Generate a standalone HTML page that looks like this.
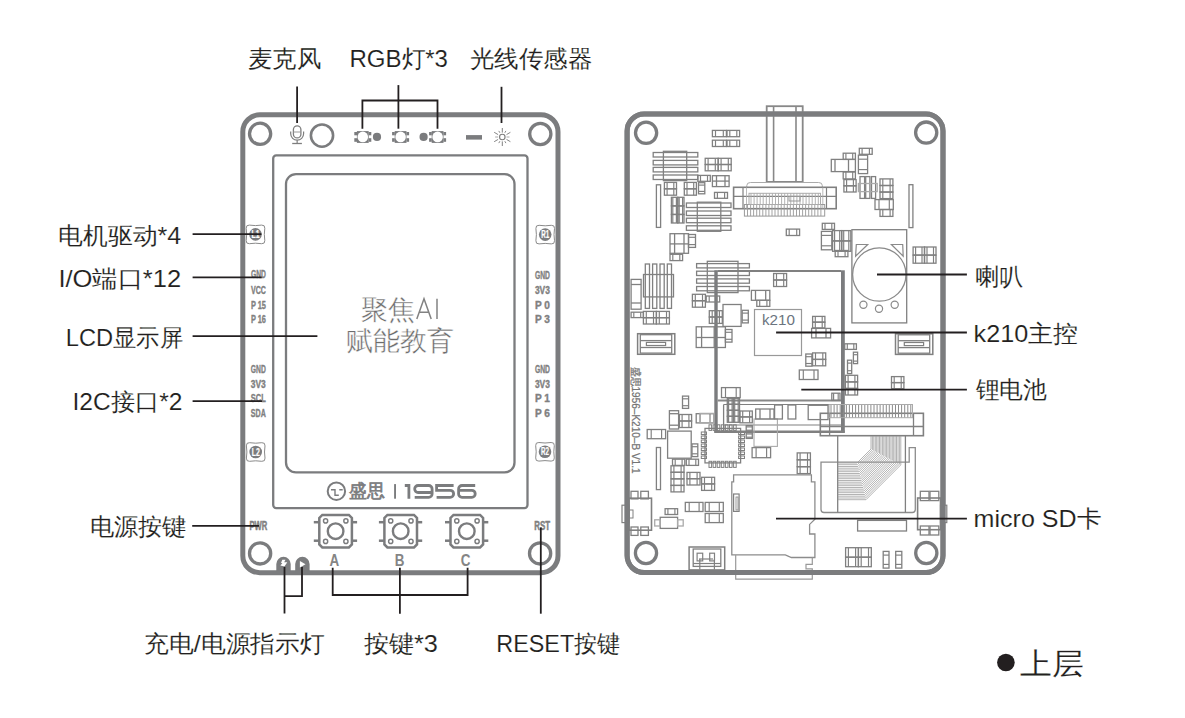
<!DOCTYPE html>
<html><head><meta charset="utf-8"><title>board</title>
<style>html,body{margin:0;padding:0;background:#fff;width:1185px;height:718px;overflow:hidden;position:relative}</style>
</head><body>
<svg width="1185" height="718" viewBox="0 0 1185 718" style="position:absolute;left:0;top:0;font-family:'Liberation Sans',sans-serif">
<rect x="242.8" y="114.8" width="315.2" height="457.9" rx="17" fill="none" stroke="#7b7c7e" stroke-width="5"/>
<circle cx="260.1" cy="133.8" r="10.6" fill="none" stroke="#7b7c7e" stroke-width="3.3"/>
<circle cx="540.3" cy="134" r="10.6" fill="none" stroke="#7b7c7e" stroke-width="3.3"/>
<circle cx="260.1" cy="553.4" r="10.6" fill="none" stroke="#7b7c7e" stroke-width="3.3"/>
<circle cx="540.1" cy="553.4" r="10.6" fill="none" stroke="#7b7c7e" stroke-width="3.3"/>
<rect x="273.2" y="155.4" width="254.3" height="352.7" rx="3" fill="none" stroke="#7b7c7e" stroke-width="2.3"/>
<rect x="286.0" y="174.1" width="228.5" height="298.3" rx="10" fill="none" stroke="#7b7c7e" stroke-width="2.3"/>
<rect x="293.4" y="125.8" width="7.5" height="12.1" rx="3.75" fill="none" stroke="#7e7e7e" stroke-width="1.3"/>
<line x1="293.4" y1="132" x2="300.9" y2="132" stroke="#999" stroke-width="1"/>
<path d="M290.7 131.4 V133.75 A6.45 6.45 0 0 0 303.6 133.75 V131.4" fill="none" stroke="#7e7e7e" stroke-width="1.2"/>
<line x1="297.15" y1="140.2" x2="297.15" y2="143" stroke="#7e7e7e" stroke-width="1.2"/>
<line x1="292.2" y1="143.5" x2="301.9" y2="143.5" stroke="#7e7e7e" stroke-width="1.3"/>
<circle cx="322" cy="135.6" r="11.1" fill="none" stroke="#7b7c7e" stroke-width="2.6"/>
<rect x="356.9" y="131.1" width="11.8" height="11.8" fill="#7b7c7e"/>
<rect x="354.3" y="132" width="2.7" height="3.3" fill="#7b7c7e"/>
<rect x="368.6" y="132" width="2.7" height="3.3" fill="#7b7c7e"/>
<rect x="354.3" y="138.2" width="2.7" height="3.6" fill="#7b7c7e"/>
<rect x="368.6" y="138.2" width="2.7" height="3.6" fill="#7b7c7e"/>
<circle cx="362.8" cy="136.9" r="5.3" fill="#fff"/>
<rect x="394.7" y="131.1" width="11.8" height="11.8" fill="#7b7c7e"/>
<rect x="392.1" y="132" width="2.7" height="3.3" fill="#7b7c7e"/>
<rect x="406.4" y="132" width="2.7" height="3.3" fill="#7b7c7e"/>
<rect x="392.1" y="138.2" width="2.7" height="3.6" fill="#7b7c7e"/>
<rect x="406.4" y="138.2" width="2.7" height="3.6" fill="#7b7c7e"/>
<circle cx="400.6" cy="136.9" r="5.3" fill="#fff"/>
<rect x="431.7" y="131.1" width="11.8" height="11.8" fill="#7b7c7e"/>
<rect x="429.1" y="132" width="2.7" height="3.3" fill="#7b7c7e"/>
<rect x="443.4" y="132" width="2.7" height="3.3" fill="#7b7c7e"/>
<rect x="429.1" y="138.2" width="2.7" height="3.6" fill="#7b7c7e"/>
<rect x="443.4" y="138.2" width="2.7" height="3.6" fill="#7b7c7e"/>
<circle cx="437.6" cy="136.9" r="5.3" fill="#fff"/>
<circle cx="377" cy="136.9" r="4.1" fill="#7b7c7e"/>
<circle cx="423.6" cy="136.9" r="4.1" fill="#7b7c7e"/>
<rect x="466" y="135.1" width="16" height="4.5" fill="#7b7c7e"/>
<circle cx="502.3" cy="137" r="2.75" fill="none" stroke="#7e7e7e" stroke-width="1.15"/>
<line x1="506.5" y1="137.0" x2="509.5" y2="137.0" stroke="#aaa" stroke-width="1.0"/>
<line x1="506.5" y1="139.4" x2="510.4" y2="141.7" stroke="#858585" stroke-width="1.0"/>
<line x1="504.8" y1="141.2" x2="505.9" y2="143.1" stroke="#8a8a8a" stroke-width="1.0"/>
<line x1="502.3" y1="141.4" x2="502.3" y2="146.0" stroke="#808080" stroke-width="1.0"/>
<line x1="499.9" y1="141.2" x2="498.8" y2="143.1" stroke="#8a8a8a" stroke-width="1.0"/>
<line x1="498.1" y1="139.4" x2="494.2" y2="141.7" stroke="#858585" stroke-width="1.0"/>
<line x1="498.1" y1="137.0" x2="495.1" y2="137.0" stroke="#aaa" stroke-width="1.0"/>
<line x1="498.1" y1="134.6" x2="494.2" y2="132.3" stroke="#858585" stroke-width="1.0"/>
<line x1="499.9" y1="132.8" x2="498.8" y2="130.9" stroke="#8a8a8a" stroke-width="1.0"/>
<line x1="502.3" y1="132.6" x2="502.3" y2="128.0" stroke="#808080" stroke-width="1.0"/>
<line x1="504.8" y1="132.8" x2="505.9" y2="130.9" stroke="#8a8a8a" stroke-width="1.0"/>
<line x1="506.5" y1="134.6" x2="510.4" y2="132.3" stroke="#858585" stroke-width="1.0"/>
<path d="M249.40 225.10 Q255.50 226.10 261.60 225.10 Q265.10 224.80 264.80 228.30 Q263.80 234.40 264.80 240.50 Q265.10 244.00 261.60 243.70 Q255.50 242.70 249.40 243.70 Q245.90 244.00 246.20 240.50 Q247.20 234.40 246.20 228.30 Q245.90 224.80 249.40 225.10 Z" fill="none" stroke="#8a8a8a" stroke-width="1"/>
<circle cx="255.5" cy="234.4" r="6.3" fill="#7b7c7e"/>
<text x="255.5" y="238.0" font-size="10" font-weight="bold" fill="#fff" stroke="#fff" stroke-width="0.2" text-anchor="middle" textLength="8" lengthAdjust="spacingAndGlyphs">L1</text>
<path d="M539.10 225.30 Q545.20 226.30 551.30 225.30 Q554.80 225.00 554.50 228.50 Q553.50 234.60 554.50 240.70 Q554.80 244.20 551.30 243.90 Q545.20 242.90 539.10 243.90 Q535.60 244.20 535.90 240.70 Q536.90 234.60 535.90 228.50 Q535.60 225.00 539.10 225.30 Z" fill="none" stroke="#8a8a8a" stroke-width="1"/>
<circle cx="545.2" cy="234.6" r="6.3" fill="#7b7c7e"/>
<text x="545.2" y="238.2" font-size="10" font-weight="bold" fill="#fff" stroke="#fff" stroke-width="0.2" text-anchor="middle" textLength="8" lengthAdjust="spacingAndGlyphs">R1</text>
<path d="M249.60 442.70 Q255.70 443.70 261.80 442.70 Q265.30 442.40 265.00 445.90 Q264.00 452.00 265.00 458.10 Q265.30 461.60 261.80 461.30 Q255.70 460.30 249.60 461.30 Q246.10 461.60 246.40 458.10 Q247.40 452.00 246.40 445.90 Q246.10 442.40 249.60 442.70 Z" fill="none" stroke="#8a8a8a" stroke-width="1"/>
<circle cx="255.7" cy="452" r="6.3" fill="#7b7c7e"/>
<text x="255.7" y="455.6" font-size="10" font-weight="bold" fill="#fff" stroke="#fff" stroke-width="0.2" text-anchor="middle" textLength="8" lengthAdjust="spacingAndGlyphs">L2</text>
<path d="M538.90 442.50 Q545.00 443.50 551.10 442.50 Q554.60 442.20 554.30 445.70 Q553.30 451.80 554.30 457.90 Q554.60 461.40 551.10 461.10 Q545.00 460.10 538.90 461.10 Q535.40 461.40 535.70 457.90 Q536.70 451.80 535.70 445.70 Q535.40 442.20 538.90 442.50 Z" fill="none" stroke="#8a8a8a" stroke-width="1"/>
<circle cx="545" cy="451.8" r="6.3" fill="#7b7c7e"/>
<text x="545.0" y="455.4" font-size="10" font-weight="bold" fill="#fff" stroke="#fff" stroke-width="0.2" text-anchor="middle" textLength="8" lengthAdjust="spacingAndGlyphs">R2</text>
<text x="250.9" y="278.4" font-size="10" font-weight="bold" fill="#808080" stroke="#808080" stroke-width="0.35" textLength="15" lengthAdjust="spacingAndGlyphs">GND</text>
<text x="250.9" y="293.5" font-size="10" font-weight="bold" fill="#808080" stroke="#808080" stroke-width="0.35" textLength="15" lengthAdjust="spacingAndGlyphs">VCC</text>
<text x="250.9" y="308.5" font-size="10" font-weight="bold" fill="#808080" stroke="#808080" stroke-width="0.35" textLength="15" lengthAdjust="spacingAndGlyphs">P 15</text>
<text x="250.9" y="323.0" font-size="10" font-weight="bold" fill="#808080" stroke="#808080" stroke-width="0.35" textLength="15" lengthAdjust="spacingAndGlyphs">P 16</text>
<text x="250.8" y="372.7" font-size="10" font-weight="bold" fill="#808080" stroke="#808080" stroke-width="0.35" textLength="15" lengthAdjust="spacingAndGlyphs">GND</text>
<text x="250.8" y="387.6" font-size="10" font-weight="bold" fill="#808080" stroke="#808080" stroke-width="0.35" textLength="15" lengthAdjust="spacingAndGlyphs">3V3</text>
<text x="250.8" y="402.3" font-size="10" font-weight="bold" fill="#808080" stroke="#808080" stroke-width="0.35" textLength="15" lengthAdjust="spacingAndGlyphs">SCL</text>
<text x="250.8" y="417.3" font-size="10" font-weight="bold" fill="#808080" stroke="#808080" stroke-width="0.35" textLength="15" lengthAdjust="spacingAndGlyphs">SDA</text>
<text x="534.9" y="278.7" font-size="10" font-weight="bold" fill="#808080" stroke="#808080" stroke-width="0.35" textLength="15" lengthAdjust="spacingAndGlyphs">GND</text>
<text x="534.9" y="293.6" font-size="10" font-weight="bold" fill="#808080" stroke="#808080" stroke-width="0.35" textLength="15" lengthAdjust="spacingAndGlyphs">3V3</text>
<text x="534.9" y="308.8" font-size="10" font-weight="bold" fill="#808080" stroke="#808080" stroke-width="0.35" textLength="15" lengthAdjust="spacingAndGlyphs">P 0</text>
<text x="534.9" y="322.9" font-size="10" font-weight="bold" fill="#808080" stroke="#808080" stroke-width="0.35" textLength="15" lengthAdjust="spacingAndGlyphs">P 3</text>
<text x="534.9" y="372.7" font-size="10" font-weight="bold" fill="#808080" stroke="#808080" stroke-width="0.35" textLength="15" lengthAdjust="spacingAndGlyphs">GND</text>
<text x="534.9" y="387.6" font-size="10" font-weight="bold" fill="#808080" stroke="#808080" stroke-width="0.35" textLength="15" lengthAdjust="spacingAndGlyphs">3V3</text>
<text x="534.9" y="402.3" font-size="10" font-weight="bold" fill="#808080" stroke="#808080" stroke-width="0.35" textLength="15" lengthAdjust="spacingAndGlyphs">P 1</text>
<text x="534.9" y="417.3" font-size="10" font-weight="bold" fill="#808080" stroke="#808080" stroke-width="0.35" textLength="15" lengthAdjust="spacingAndGlyphs">P 6</text>
<text x="249.5" y="530.4" font-size="12" font-weight="bold" fill="#808080" stroke="#808080" stroke-width="0.5" textLength="17.8" lengthAdjust="spacingAndGlyphs">PWR</text>
<text x="534.2" y="530.4" font-size="12" font-weight="bold" fill="#808080" stroke="#808080" stroke-width="0.5" textLength="15.8" lengthAdjust="spacingAndGlyphs">RST</text>
<text x="361" y="318.6" font-size="27" fill="#6c6c6c" stroke="#fff" stroke-width="0.42">聚焦</text>
<path d="M416.8 319 L424 298.8 L431.2 319 M419.2 312.2 H428.8 M437 298.8 V319" fill="none" stroke="#828282" stroke-width="1.5"/>
<text x="400.3" y="350.2" font-size="27" fill="#6c6c6c" stroke="#fff" stroke-width="0.42" text-anchor="middle">赋能教育</text>
<circle cx="336.4" cy="491.2" r="8.7" fill="none" stroke="#7b7c7e" stroke-width="2"/>
<path d="M331 489.8 H335 V495.2 H338.8 M339.3 489.8 H342.7" fill="none" stroke="#7b7c7e" stroke-width="1.4"/>
<text x="349" y="497.2" font-size="18" fill="#7b7c7e" stroke="#7b7c7e" stroke-width="0.7" textLength="35.6" lengthAdjust="spacingAndGlyphs">盛思</text>
<rect x="394.1" y="484.1" width="1.9" height="14.6" fill="#7b7c7e"/>
<g fill="none" stroke="#7b7c7e" stroke-width="2.8"><path d="M404.8 485.5 H408.9 V498.7"/><path d="M414.7 497.3 H428.7 A3.4 3.4 0 0 0 432.1 493.9 V488.9 A3.4 3.4 0 0 0 428.7 485.5 H418.1 A3.4 3.4 0 0 0 414.7 488.9 V489.1 A3.4 3.4 0 0 0 418.1 492.5 H432.1"/><path d="M453.6 485.5 H436.6 V490.3 H450.2 A3.4 3.4 0 0 1 453.6 493.7 V493.9 A3.4 3.4 0 0 1 450.2 497.3 H436.6"/><path d="M475.2 485.5 H462 A3.4 3.4 0 0 0 458.6 488.9 V493.9 A3.4 3.4 0 0 0 462 497.3 H471.8 A3.4 3.4 0 0 0 475.2 493.9 V493.7 A3.4 3.4 0 0 0 471.8 490.3 H458.6"/></g>
<path d="M322.3 514.9 H348.9 L351.9 517.9 V544.5 L348.9 547.5 H322.3 L319.3 544.5 V517.9 Z" fill="none" stroke="#7b7c7e" stroke-width="2.5"/>
<line x1="313.8" y1="522.2" x2="319.3" y2="522.2" stroke="#7b7c7e" stroke-width="2.5"/>
<line x1="351.9" y1="522.2" x2="357.1" y2="522.2" stroke="#7b7c7e" stroke-width="2.5"/>
<line x1="313.8" y1="540.7" x2="319.3" y2="540.7" stroke="#7b7c7e" stroke-width="2.5"/>
<line x1="351.9" y1="540.7" x2="357.1" y2="540.7" stroke="#7b7c7e" stroke-width="2.5"/>
<circle cx="335.6" cy="531.2" r="7.8" fill="none" stroke="#7b7c7e" stroke-width="2.4"/>
<circle cx="325.6" cy="520.9" r="2.1" fill="none" stroke="#7b7c7e" stroke-width="1.45"/>
<circle cx="325.6" cy="541.4" r="2.1" fill="none" stroke="#7b7c7e" stroke-width="1.45"/>
<circle cx="345.9" cy="520.9" r="2.1" fill="none" stroke="#7b7c7e" stroke-width="1.45"/>
<circle cx="345.9" cy="541.4" r="2.1" fill="none" stroke="#7b7c7e" stroke-width="1.45"/>
<text x="334.4" y="565.7" font-size="16.5" font-weight="bold" fill="#858585" text-anchor="middle" textLength="9.7" lengthAdjust="spacingAndGlyphs">A</text>
<path d="M387.4 514.9 H414.0 L417.0 517.9 V544.5 L414.0 547.5 H387.4 L384.4 544.5 V517.9 Z" fill="none" stroke="#7b7c7e" stroke-width="2.5"/>
<line x1="378.9" y1="522.2" x2="384.4" y2="522.2" stroke="#7b7c7e" stroke-width="2.5"/>
<line x1="417.0" y1="522.2" x2="422.2" y2="522.2" stroke="#7b7c7e" stroke-width="2.5"/>
<line x1="378.9" y1="540.7" x2="384.4" y2="540.7" stroke="#7b7c7e" stroke-width="2.5"/>
<line x1="417.0" y1="540.7" x2="422.2" y2="540.7" stroke="#7b7c7e" stroke-width="2.5"/>
<circle cx="400.7" cy="531.2" r="7.8" fill="none" stroke="#7b7c7e" stroke-width="2.4"/>
<circle cx="390.7" cy="520.9" r="2.1" fill="none" stroke="#7b7c7e" stroke-width="1.45"/>
<circle cx="390.7" cy="541.4" r="2.1" fill="none" stroke="#7b7c7e" stroke-width="1.45"/>
<circle cx="411.0" cy="520.9" r="2.1" fill="none" stroke="#7b7c7e" stroke-width="1.45"/>
<circle cx="411.0" cy="541.4" r="2.1" fill="none" stroke="#7b7c7e" stroke-width="1.45"/>
<text x="399.5" y="565.7" font-size="16.5" font-weight="bold" fill="#858585" text-anchor="middle" textLength="9.7" lengthAdjust="spacingAndGlyphs">B</text>
<path d="M453.5 514.9 H480.1 L483.1 517.9 V544.5 L480.1 547.5 H453.5 L450.5 544.5 V517.9 Z" fill="none" stroke="#7b7c7e" stroke-width="2.5"/>
<line x1="445.0" y1="522.2" x2="450.5" y2="522.2" stroke="#7b7c7e" stroke-width="2.5"/>
<line x1="483.1" y1="522.2" x2="488.3" y2="522.2" stroke="#7b7c7e" stroke-width="2.5"/>
<line x1="445.0" y1="540.7" x2="450.5" y2="540.7" stroke="#7b7c7e" stroke-width="2.5"/>
<line x1="483.1" y1="540.7" x2="488.3" y2="540.7" stroke="#7b7c7e" stroke-width="2.5"/>
<circle cx="466.8" cy="531.2" r="7.8" fill="none" stroke="#7b7c7e" stroke-width="2.4"/>
<circle cx="456.8" cy="520.9" r="2.1" fill="none" stroke="#7b7c7e" stroke-width="1.45"/>
<circle cx="456.8" cy="541.4" r="2.1" fill="none" stroke="#7b7c7e" stroke-width="1.45"/>
<circle cx="477.1" cy="520.9" r="2.1" fill="none" stroke="#7b7c7e" stroke-width="1.45"/>
<circle cx="477.1" cy="541.4" r="2.1" fill="none" stroke="#7b7c7e" stroke-width="1.45"/>
<text x="465.6" y="565.7" font-size="16.5" font-weight="bold" fill="#858585" text-anchor="middle" textLength="9.7" lengthAdjust="spacingAndGlyphs">C</text>
<path d="M276.3 572 V564 A7.2 7.2 0 0 1 290.7 564 V572 Z" fill="#7b7c7e"/>
<path d="M295.2 572 V564 A7.2 7.2 0 0 1 309.6 564 V572 Z" fill="#7b7c7e"/>
<path d="M282.3 559.8 H285.5 L284.2 562.2 H287.3 L284.4 566.4 L280.4 565.6 L282.4 562.9 H281 Z" fill="#fff"/>
<path d="M299.9 561 L305.5 564.3 L299.9 567.5 Z" fill="#fff"/>
<rect x="627.1" y="114.0" width="315.9" height="458.6" rx="17" fill="none" stroke="#7b7c7e" stroke-width="5"/>
<circle cx="646.1" cy="132.8" r="10.6" fill="none" stroke="#7b7c7e" stroke-width="3.3"/>
<circle cx="926.2" cy="132.6" r="10.6" fill="none" stroke="#7b7c7e" stroke-width="3.3"/>
<circle cx="646" cy="553" r="10.6" fill="none" stroke="#7b7c7e" stroke-width="3.3"/>
<circle cx="926.3" cy="553" r="10.6" fill="none" stroke="#7b7c7e" stroke-width="3.3"/>
<rect x="766.7" y="106.2" width="36.0" height="75.7" rx="0" fill="none" stroke="#888" stroke-width="1.8"/>
<line x1="773.6" y1="106.2" x2="773.6" y2="181.9" stroke="#888" stroke-width="1.6"/>
<line x1="796.0" y1="106.2" x2="796.0" y2="181.9" stroke="#888" stroke-width="1.6"/>
<path d="M746.8 187.3 V185.5 Q746.8 182.5 750.5 182.5 H818.6 Q822.3 182.5 822.3 185.5 V187.3" fill="none" stroke="#aaa" stroke-width="1"/>
<rect x="733.6" y="187.3" width="102.6" height="21.4" rx="0" fill="none" stroke="#808080" stroke-width="1.6"/>
<line x1="733.6" y1="196.4" x2="836.2" y2="196.4" stroke="#808080" stroke-width="1.3"/>
<line x1="743.0" y1="187.3" x2="743.0" y2="208.7" stroke="#808080" stroke-width="1.2"/>
<line x1="826.5" y1="187.3" x2="826.5" y2="208.7" stroke="#808080" stroke-width="1.2"/>
<line x1="746.5" y1="187.3" x2="746.5" y2="208.7" stroke="#aaa" stroke-width="0.8"/>
<line x1="822.8" y1="187.3" x2="822.8" y2="208.7" stroke="#aaa" stroke-width="0.8"/>
<line x1="747.5" y1="204.5" x2="747.5" y2="216.1" stroke="#999" stroke-width="0.9"/>
<line x1="750.6" y1="204.5" x2="750.6" y2="216.1" stroke="#999" stroke-width="0.9"/>
<line x1="753.6" y1="204.5" x2="753.6" y2="216.1" stroke="#999" stroke-width="0.9"/>
<line x1="756.7" y1="204.5" x2="756.7" y2="216.1" stroke="#999" stroke-width="0.9"/>
<line x1="759.7" y1="204.5" x2="759.7" y2="216.1" stroke="#999" stroke-width="0.9"/>
<line x1="762.8" y1="204.5" x2="762.8" y2="216.1" stroke="#999" stroke-width="0.9"/>
<line x1="765.9" y1="204.5" x2="765.9" y2="216.1" stroke="#999" stroke-width="0.9"/>
<line x1="768.9" y1="204.5" x2="768.9" y2="216.1" stroke="#999" stroke-width="0.9"/>
<line x1="772.0" y1="204.5" x2="772.0" y2="216.1" stroke="#999" stroke-width="0.9"/>
<line x1="775.0" y1="204.5" x2="775.0" y2="216.1" stroke="#999" stroke-width="0.9"/>
<line x1="778.1" y1="204.5" x2="778.1" y2="216.1" stroke="#999" stroke-width="0.9"/>
<line x1="781.2" y1="204.5" x2="781.2" y2="216.1" stroke="#999" stroke-width="0.9"/>
<line x1="784.2" y1="204.5" x2="784.2" y2="216.1" stroke="#999" stroke-width="0.9"/>
<line x1="787.3" y1="204.5" x2="787.3" y2="216.1" stroke="#999" stroke-width="0.9"/>
<line x1="790.3" y1="204.5" x2="790.3" y2="216.1" stroke="#999" stroke-width="0.9"/>
<line x1="793.4" y1="204.5" x2="793.4" y2="216.1" stroke="#999" stroke-width="0.9"/>
<line x1="796.5" y1="204.5" x2="796.5" y2="216.1" stroke="#999" stroke-width="0.9"/>
<line x1="799.5" y1="204.5" x2="799.5" y2="216.1" stroke="#999" stroke-width="0.9"/>
<line x1="802.6" y1="204.5" x2="802.6" y2="216.1" stroke="#999" stroke-width="0.9"/>
<line x1="805.6" y1="204.5" x2="805.6" y2="216.1" stroke="#999" stroke-width="0.9"/>
<line x1="808.7" y1="204.5" x2="808.7" y2="216.1" stroke="#999" stroke-width="0.9"/>
<line x1="811.8" y1="204.5" x2="811.8" y2="216.1" stroke="#999" stroke-width="0.9"/>
<line x1="814.8" y1="204.5" x2="814.8" y2="216.1" stroke="#999" stroke-width="0.9"/>
<line x1="817.9" y1="204.5" x2="817.9" y2="216.1" stroke="#999" stroke-width="0.9"/>
<line x1="820.9" y1="204.5" x2="820.9" y2="216.1" stroke="#999" stroke-width="0.9"/>
<line x1="751.0" y1="193.3" x2="751.0" y2="204.5" stroke="#aaa" stroke-width="0.9"/>
<line x1="754.1" y1="193.3" x2="754.1" y2="204.5" stroke="#aaa" stroke-width="0.9"/>
<line x1="757.1" y1="193.3" x2="757.1" y2="204.5" stroke="#aaa" stroke-width="0.9"/>
<line x1="760.2" y1="193.3" x2="760.2" y2="204.5" stroke="#aaa" stroke-width="0.9"/>
<line x1="763.2" y1="193.3" x2="763.2" y2="204.5" stroke="#aaa" stroke-width="0.9"/>
<line x1="766.3" y1="193.3" x2="766.3" y2="204.5" stroke="#aaa" stroke-width="0.9"/>
<line x1="769.4" y1="193.3" x2="769.4" y2="204.5" stroke="#aaa" stroke-width="0.9"/>
<line x1="772.4" y1="193.3" x2="772.4" y2="204.5" stroke="#aaa" stroke-width="0.9"/>
<line x1="775.5" y1="193.3" x2="775.5" y2="204.5" stroke="#aaa" stroke-width="0.9"/>
<line x1="778.5" y1="193.3" x2="778.5" y2="204.5" stroke="#aaa" stroke-width="0.9"/>
<line x1="781.6" y1="193.3" x2="781.6" y2="204.5" stroke="#aaa" stroke-width="0.9"/>
<line x1="784.7" y1="193.3" x2="784.7" y2="204.5" stroke="#aaa" stroke-width="0.9"/>
<line x1="787.7" y1="193.3" x2="787.7" y2="204.5" stroke="#aaa" stroke-width="0.9"/>
<line x1="790.8" y1="193.3" x2="790.8" y2="204.5" stroke="#aaa" stroke-width="0.9"/>
<line x1="793.8" y1="193.3" x2="793.8" y2="204.5" stroke="#aaa" stroke-width="0.9"/>
<line x1="796.9" y1="193.3" x2="796.9" y2="204.5" stroke="#aaa" stroke-width="0.9"/>
<line x1="800.0" y1="193.3" x2="800.0" y2="204.5" stroke="#aaa" stroke-width="0.9"/>
<line x1="803.0" y1="193.3" x2="803.0" y2="204.5" stroke="#aaa" stroke-width="0.9"/>
<line x1="806.1" y1="193.3" x2="806.1" y2="204.5" stroke="#aaa" stroke-width="0.9"/>
<line x1="809.1" y1="193.3" x2="809.1" y2="204.5" stroke="#aaa" stroke-width="0.9"/>
<line x1="812.2" y1="193.3" x2="812.2" y2="204.5" stroke="#aaa" stroke-width="0.9"/>
<line x1="815.3" y1="193.3" x2="815.3" y2="204.5" stroke="#aaa" stroke-width="0.9"/>
<line x1="818.3" y1="193.3" x2="818.3" y2="204.5" stroke="#aaa" stroke-width="0.9"/>
<rect x="744.4" y="204.5" width="80.3" height="11.6" rx="0" fill="none" stroke="#999" stroke-width="1"/>
<rect x="749.0" y="193.3" width="71.5" height="11.2" rx="0" fill="none" stroke="#aaa" stroke-width="1"/>
<rect x="789.0" y="196.4" width="11.0" height="4.6" rx="0" fill="none" stroke="#999" stroke-width="1"/>
<rect x="653.2" y="152.5" width="44.6" height="4.5" rx="0" fill="none" stroke="#808080" stroke-width="1.3"/>
<rect x="653.2" y="160.4" width="44.6" height="4.5" rx="0" fill="none" stroke="#808080" stroke-width="1.3"/>
<rect x="653.2" y="167.4" width="44.6" height="4.5" rx="0" fill="none" stroke="#808080" stroke-width="1.3"/>
<rect x="653.2" y="175.0" width="44.6" height="4.5" rx="0" fill="none" stroke="#808080" stroke-width="1.3"/>
<rect x="663.4" y="151.3" width="23.3" height="29.3" rx="0" fill="none" stroke="#808080" stroke-width="1.3"/>
<rect x="712.4" y="130.4" width="14.0" height="6.3" rx="0" fill="none" stroke="#808080" stroke-width="1.3"/>
<line x1="715.5" y1="130.4" x2="715.5" y2="136.7" stroke="#808080" stroke-width="1.1700000000000002"/>
<line x1="723.3" y1="130.4" x2="723.3" y2="136.7" stroke="#808080" stroke-width="1.1700000000000002"/>
<rect x="727.0" y="130.4" width="12.6" height="6.3" rx="0" fill="none" stroke="#808080" stroke-width="1.3"/>
<line x1="729.8" y1="130.4" x2="729.8" y2="136.7" stroke="#808080" stroke-width="1.1700000000000002"/>
<line x1="736.8" y1="130.4" x2="736.8" y2="136.7" stroke="#808080" stroke-width="1.1700000000000002"/>
<rect x="712.4" y="140.2" width="14.0" height="6.3" rx="0" fill="none" stroke="#808080" stroke-width="1.3"/>
<line x1="715.5" y1="140.2" x2="715.5" y2="146.5" stroke="#808080" stroke-width="1.1700000000000002"/>
<line x1="723.3" y1="140.2" x2="723.3" y2="146.5" stroke="#808080" stroke-width="1.1700000000000002"/>
<rect x="727.0" y="140.2" width="12.6" height="6.3" rx="0" fill="none" stroke="#808080" stroke-width="1.3"/>
<line x1="729.8" y1="140.2" x2="729.8" y2="146.5" stroke="#808080" stroke-width="1.1700000000000002"/>
<line x1="736.8" y1="140.2" x2="736.8" y2="146.5" stroke="#808080" stroke-width="1.1700000000000002"/>
<rect x="705.2" y="158.3" width="13.0" height="6.2" rx="0" fill="none" stroke="#808080" stroke-width="1.3"/>
<line x1="708.1" y1="158.3" x2="708.1" y2="164.5" stroke="#808080" stroke-width="1.1700000000000002"/>
<line x1="715.3" y1="158.3" x2="715.3" y2="164.5" stroke="#808080" stroke-width="1.1700000000000002"/>
<rect x="718.2" y="158.3" width="13.0" height="6.2" rx="0" fill="none" stroke="#808080" stroke-width="1.3"/>
<line x1="721.1" y1="158.3" x2="721.1" y2="164.5" stroke="#808080" stroke-width="1.1700000000000002"/>
<line x1="728.3" y1="158.3" x2="728.3" y2="164.5" stroke="#808080" stroke-width="1.1700000000000002"/>
<rect x="705.2" y="164.5" width="13.0" height="6.3" rx="0" fill="none" stroke="#808080" stroke-width="1.3"/>
<line x1="708.1" y1="164.5" x2="708.1" y2="170.8" stroke="#808080" stroke-width="1.1700000000000002"/>
<line x1="715.3" y1="164.5" x2="715.3" y2="170.8" stroke="#808080" stroke-width="1.1700000000000002"/>
<rect x="718.2" y="164.5" width="13.0" height="6.3" rx="0" fill="none" stroke="#808080" stroke-width="1.3"/>
<line x1="721.1" y1="164.5" x2="721.1" y2="170.8" stroke="#808080" stroke-width="1.1700000000000002"/>
<line x1="728.3" y1="164.5" x2="728.3" y2="170.8" stroke="#808080" stroke-width="1.1700000000000002"/>
<rect x="697.8" y="175.4" width="12.5" height="5.9" rx="0" fill="none" stroke="#808080" stroke-width="1.3"/>
<line x1="700.5" y1="175.4" x2="700.5" y2="181.3" stroke="#808080" stroke-width="1.1700000000000002"/>
<line x1="707.5" y1="175.4" x2="707.5" y2="181.3" stroke="#808080" stroke-width="1.1700000000000002"/>
<rect x="714.5" y="192.4" width="13.0" height="5.9" rx="0" fill="none" stroke="#808080" stroke-width="1.3"/>
<line x1="717.4" y1="192.4" x2="717.4" y2="198.3" stroke="#808080" stroke-width="1.1700000000000002"/>
<line x1="724.6" y1="192.4" x2="724.6" y2="198.3" stroke="#808080" stroke-width="1.1700000000000002"/>
<rect x="712.4" y="175.7" width="16.7" height="10.9" rx="0" fill="none" stroke="#808080" stroke-width="1.3"/>
<line x1="712.4" y1="181.1" x2="729.1" y2="181.1" stroke="#808080" stroke-width="1.3"/>
<line x1="716.5" y1="175.7" x2="716.5" y2="186.6" stroke="#808080" stroke-width="1.3"/>
<line x1="725.0" y1="175.7" x2="725.0" y2="186.6" stroke="#808080" stroke-width="1.3"/>
<rect x="698.5" y="182.7" width="6.3" height="11.1" rx="0" fill="none" stroke="#808080" stroke-width="1.3"/>
<line x1="698.5" y1="185.1" x2="704.8" y2="185.1" stroke="#808080" stroke-width="1.1700000000000002"/>
<line x1="698.5" y1="191.4" x2="704.8" y2="191.4" stroke="#808080" stroke-width="1.1700000000000002"/>
<rect x="664.4" y="182.4" width="12.1" height="6.4" rx="0" fill="none" stroke="#808080" stroke-width="1.3"/>
<line x1="667.1" y1="182.4" x2="667.1" y2="188.8" stroke="#808080" stroke-width="1.1700000000000002"/>
<line x1="673.8" y1="182.4" x2="673.8" y2="188.8" stroke="#808080" stroke-width="1.1700000000000002"/>
<rect x="664.4" y="188.8" width="12.1" height="6.4" rx="0" fill="none" stroke="#808080" stroke-width="1.3"/>
<line x1="667.1" y1="188.8" x2="667.1" y2="195.2" stroke="#808080" stroke-width="1.1700000000000002"/>
<line x1="673.8" y1="188.8" x2="673.8" y2="195.2" stroke="#808080" stroke-width="1.1700000000000002"/>
<rect x="684.3" y="182.4" width="12.1" height="6.4" rx="0" fill="none" stroke="#808080" stroke-width="1.3"/>
<line x1="687.0" y1="182.4" x2="687.0" y2="188.8" stroke="#808080" stroke-width="1.1700000000000002"/>
<line x1="693.7" y1="182.4" x2="693.7" y2="188.8" stroke="#808080" stroke-width="1.1700000000000002"/>
<rect x="684.3" y="188.8" width="12.1" height="6.4" rx="0" fill="none" stroke="#808080" stroke-width="1.3"/>
<line x1="687.0" y1="188.8" x2="687.0" y2="195.2" stroke="#808080" stroke-width="1.1700000000000002"/>
<line x1="693.7" y1="188.8" x2="693.7" y2="195.2" stroke="#808080" stroke-width="1.1700000000000002"/>
<rect x="656.4" y="184.8" width="4.2" height="42.6" rx="0" fill="none" stroke="#808080" stroke-width="1.3"/>
<rect x="671.4" y="197.3" width="6.4" height="8.6" rx="0" fill="none" stroke="#808080" stroke-width="1.3"/>
<line x1="672.8" y1="197.3" x2="672.8" y2="205.9" stroke="#808080" stroke-width="1.1700000000000002"/>
<line x1="676.4" y1="197.3" x2="676.4" y2="205.9" stroke="#808080" stroke-width="1.1700000000000002"/>
<rect x="671.4" y="205.9" width="6.4" height="8.6" rx="0" fill="none" stroke="#808080" stroke-width="1.3"/>
<line x1="672.8" y1="205.9" x2="672.8" y2="214.4" stroke="#808080" stroke-width="1.1700000000000002"/>
<line x1="676.4" y1="205.9" x2="676.4" y2="214.4" stroke="#808080" stroke-width="1.1700000000000002"/>
<rect x="671.4" y="214.4" width="6.4" height="8.6" rx="0" fill="none" stroke="#808080" stroke-width="1.3"/>
<line x1="672.8" y1="214.4" x2="672.8" y2="223.0" stroke="#808080" stroke-width="1.1700000000000002"/>
<line x1="676.4" y1="214.4" x2="676.4" y2="223.0" stroke="#808080" stroke-width="1.1700000000000002"/>
<rect x="677.8" y="197.3" width="6.2" height="8.6" rx="0" fill="none" stroke="#808080" stroke-width="1.3"/>
<line x1="679.2" y1="197.3" x2="679.2" y2="205.9" stroke="#808080" stroke-width="1.1700000000000002"/>
<line x1="682.6" y1="197.3" x2="682.6" y2="205.9" stroke="#808080" stroke-width="1.1700000000000002"/>
<rect x="677.8" y="205.9" width="6.2" height="8.6" rx="0" fill="none" stroke="#808080" stroke-width="1.3"/>
<line x1="679.2" y1="205.9" x2="679.2" y2="214.4" stroke="#808080" stroke-width="1.1700000000000002"/>
<line x1="682.6" y1="205.9" x2="682.6" y2="214.4" stroke="#808080" stroke-width="1.1700000000000002"/>
<rect x="677.8" y="214.4" width="6.2" height="8.6" rx="0" fill="none" stroke="#808080" stroke-width="1.3"/>
<line x1="679.2" y1="214.4" x2="679.2" y2="223.0" stroke="#808080" stroke-width="1.1700000000000002"/>
<line x1="682.6" y1="214.4" x2="682.6" y2="223.0" stroke="#808080" stroke-width="1.1700000000000002"/>
<rect x="686.4" y="203.0" width="44.6" height="4.5" rx="0" fill="none" stroke="#808080" stroke-width="1.3"/>
<rect x="686.4" y="211.0" width="44.6" height="4.5" rx="0" fill="none" stroke="#808080" stroke-width="1.3"/>
<rect x="686.4" y="218.2" width="44.6" height="4.5" rx="0" fill="none" stroke="#808080" stroke-width="1.3"/>
<rect x="686.4" y="225.8" width="44.6" height="4.5" rx="0" fill="none" stroke="#808080" stroke-width="1.3"/>
<rect x="697.3" y="202.2" width="23.5" height="29.1" rx="0" fill="none" stroke="#808080" stroke-width="1.3"/>
<rect x="670.0" y="233.7" width="18.5" height="19.6" rx="0" fill="none" stroke="#808080" stroke-width="1.3"/>
<line x1="670.0" y1="243.9" x2="688.5" y2="243.9" stroke="#808080" stroke-width="1.3"/>
<line x1="674.6" y1="233.7" x2="674.6" y2="253.3" stroke="#808080" stroke-width="1.3"/>
<line x1="684.0" y1="233.7" x2="684.0" y2="253.3" stroke="#808080" stroke-width="1.3"/>
<rect x="688.5" y="234.5" width="7.0" height="12.9" rx="0" fill="none" stroke="#808080" stroke-width="1.3"/>
<line x1="688.5" y1="237.3" x2="695.5" y2="237.3" stroke="#808080" stroke-width="1.1700000000000002"/>
<line x1="688.5" y1="244.6" x2="695.5" y2="244.6" stroke="#808080" stroke-width="1.1700000000000002"/>
<rect x="670.0" y="254.3" width="12.6" height="6.3" rx="0" fill="none" stroke="#808080" stroke-width="1.3"/>
<line x1="672.8" y1="254.3" x2="672.8" y2="260.6" stroke="#808080" stroke-width="1.1700000000000002"/>
<line x1="679.8" y1="254.3" x2="679.8" y2="260.6" stroke="#808080" stroke-width="1.1700000000000002"/>
<rect x="645.3" y="264.0" width="4.2" height="44.4" rx="0" fill="none" stroke="#808080" stroke-width="1.3"/>
<rect x="652.6" y="264.0" width="4.2" height="44.4" rx="0" fill="none" stroke="#808080" stroke-width="1.3"/>
<rect x="660.0" y="264.0" width="4.2" height="44.4" rx="0" fill="none" stroke="#808080" stroke-width="1.3"/>
<rect x="667.3" y="264.0" width="4.2" height="44.4" rx="0" fill="none" stroke="#808080" stroke-width="1.3"/>
<rect x="643.5" y="274.5" width="30.0" height="22.4" rx="0" fill="none" stroke="#808080" stroke-width="1.3"/>
<rect x="631.1" y="279.4" width="10.0" height="29.8" rx="0" fill="none" stroke="#808080" stroke-width="1.3"/>
<line x1="631.1" y1="284.5" x2="641.1" y2="284.5" stroke="#808080" stroke-width="1.3"/>
<line x1="631.1" y1="303.0" x2="641.1" y2="303.0" stroke="#808080" stroke-width="1.3"/>
<rect x="631.1" y="312.2" width="12.3" height="5.4" rx="0" fill="none" stroke="#808080" stroke-width="1.3"/>
<line x1="633.8" y1="312.2" x2="633.8" y2="317.6" stroke="#808080" stroke-width="1.1700000000000002"/>
<line x1="640.7" y1="312.2" x2="640.7" y2="317.6" stroke="#808080" stroke-width="1.1700000000000002"/>
<rect x="643.4" y="311.4" width="13.0" height="6.3" rx="0" fill="none" stroke="#808080" stroke-width="1.3"/>
<line x1="646.3" y1="311.4" x2="646.3" y2="317.7" stroke="#808080" stroke-width="1.1700000000000002"/>
<line x1="653.5" y1="311.4" x2="653.5" y2="317.7" stroke="#808080" stroke-width="1.1700000000000002"/>
<rect x="656.4" y="311.4" width="13.0" height="6.3" rx="0" fill="none" stroke="#808080" stroke-width="1.3"/>
<line x1="659.3" y1="311.4" x2="659.3" y2="317.7" stroke="#808080" stroke-width="1.1700000000000002"/>
<line x1="666.5" y1="311.4" x2="666.5" y2="317.7" stroke="#808080" stroke-width="1.1700000000000002"/>
<rect x="643.4" y="317.7" width="13.0" height="6.3" rx="0" fill="none" stroke="#808080" stroke-width="1.3"/>
<line x1="646.3" y1="317.7" x2="646.3" y2="324.0" stroke="#808080" stroke-width="1.1700000000000002"/>
<line x1="653.5" y1="317.7" x2="653.5" y2="324.0" stroke="#808080" stroke-width="1.1700000000000002"/>
<rect x="656.4" y="317.7" width="13.0" height="6.3" rx="0" fill="none" stroke="#808080" stroke-width="1.3"/>
<line x1="659.3" y1="317.7" x2="659.3" y2="324.0" stroke="#808080" stroke-width="1.1700000000000002"/>
<line x1="666.5" y1="317.7" x2="666.5" y2="324.0" stroke="#808080" stroke-width="1.1700000000000002"/>
<rect x="696.6" y="263.6" width="52.8" height="4.3" rx="0" fill="none" stroke="#808080" stroke-width="1.3"/>
<rect x="696.6" y="271.2" width="52.8" height="4.3" rx="0" fill="none" stroke="#808080" stroke-width="1.3"/>
<rect x="696.6" y="278.9" width="52.8" height="4.3" rx="0" fill="none" stroke="#808080" stroke-width="1.3"/>
<rect x="696.6" y="286.5" width="52.8" height="4.3" rx="0" fill="none" stroke="#808080" stroke-width="1.3"/>
<rect x="707.3" y="261.3" width="30.7" height="31.3" rx="0" fill="none" stroke="#808080" stroke-width="1.3"/>
<rect x="714.3" y="270.3" width="3.4" height="162.3" fill="#7b7c7e"/>
<rect x="841" y="270.3" width="3.8" height="162.3" fill="#7b7c7e"/>
<line x1="717.7" y1="270.9" x2="841.0" y2="270.9" stroke="#808080" stroke-width="2"/>
<line x1="714.3" y1="431.8" x2="844.8" y2="431.8" stroke="#808080" stroke-width="2.4"/>
<line x1="717.7" y1="400.6" x2="841.0" y2="400.6" stroke="#888" stroke-width="2"/>
<line x1="723.6" y1="404.5" x2="841.0" y2="404.5" stroke="#808080" stroke-width="1.2"/>
<line x1="723.6" y1="404.5" x2="723.6" y2="431.0" stroke="#808080" stroke-width="1.3"/>
<line x1="723.6" y1="425.0" x2="841.0" y2="425.0" stroke="#808080" stroke-width="1.2"/>
<rect x="773.6" y="273.5" width="13.0" height="6.5" rx="0" fill="none" stroke="#808080" stroke-width="1.3"/>
<line x1="776.5" y1="273.5" x2="776.5" y2="280.0" stroke="#808080" stroke-width="1.1700000000000002"/>
<line x1="783.7" y1="273.5" x2="783.7" y2="280.0" stroke="#808080" stroke-width="1.1700000000000002"/>
<rect x="773.6" y="280.0" width="13.0" height="6.5" rx="0" fill="none" stroke="#808080" stroke-width="1.3"/>
<line x1="776.5" y1="280.0" x2="776.5" y2="286.5" stroke="#808080" stroke-width="1.1700000000000002"/>
<line x1="783.7" y1="280.0" x2="783.7" y2="286.5" stroke="#808080" stroke-width="1.1700000000000002"/>
<rect x="751.4" y="290.4" width="18.4" height="9.9" rx="0" fill="none" stroke="#808080" stroke-width="1.3"/>
<line x1="755.5" y1="290.4" x2="755.5" y2="300.3" stroke="#808080" stroke-width="1.3"/>
<line x1="765.7" y1="290.4" x2="765.7" y2="300.3" stroke="#808080" stroke-width="1.3"/>
<rect x="756.8" y="300.3" width="13.0" height="6.1" rx="0" fill="none" stroke="#808080" stroke-width="1.3"/>
<line x1="759.7" y1="300.3" x2="759.7" y2="306.4" stroke="#808080" stroke-width="1.1700000000000002"/>
<line x1="766.9" y1="300.3" x2="766.9" y2="306.4" stroke="#808080" stroke-width="1.1700000000000002"/>
<rect x="723.0" y="304.5" width="18.1" height="21.9" rx="0" fill="none" stroke="#808080" stroke-width="1.3"/>
<rect x="742.2" y="310.3" width="6.1" height="12.6" rx="0" fill="none" stroke="#808080" stroke-width="1.3"/>
<line x1="742.2" y1="313.1" x2="748.3" y2="313.1" stroke="#808080" stroke-width="1.1700000000000002"/>
<line x1="742.2" y1="320.1" x2="748.3" y2="320.1" stroke="#808080" stroke-width="1.1700000000000002"/>
<rect x="709.3" y="310.7" width="13.0" height="6.3" rx="0" fill="none" stroke="#808080" stroke-width="1.3"/>
<line x1="712.2" y1="310.7" x2="712.2" y2="317.0" stroke="#808080" stroke-width="1.1700000000000002"/>
<line x1="719.4" y1="310.7" x2="719.4" y2="317.0" stroke="#808080" stroke-width="1.1700000000000002"/>
<rect x="709.3" y="317.0" width="13.0" height="6.4" rx="0" fill="none" stroke="#808080" stroke-width="1.3"/>
<line x1="712.2" y1="317.0" x2="712.2" y2="323.4" stroke="#808080" stroke-width="1.1700000000000002"/>
<line x1="719.4" y1="317.0" x2="719.4" y2="323.4" stroke="#808080" stroke-width="1.1700000000000002"/>
<rect x="696.2" y="326.8" width="29.2" height="20.7" rx="0" fill="none" stroke="#808080" stroke-width="1.3"/>
<line x1="701.6" y1="326.8" x2="701.6" y2="347.5" stroke="#808080" stroke-width="1.3"/>
<line x1="714.2" y1="326.8" x2="714.2" y2="347.5" stroke="#808080" stroke-width="1.3"/>
<line x1="696.2" y1="337.5" x2="725.4" y2="337.5" stroke="#808080" stroke-width="1.3"/>
<rect x="725.4" y="329.5" width="6.6" height="12.6" rx="0" fill="none" stroke="#808080" stroke-width="1.3"/>
<line x1="725.4" y1="332.3" x2="732.0" y2="332.3" stroke="#808080" stroke-width="1.1700000000000002"/>
<line x1="725.4" y1="339.3" x2="732.0" y2="339.3" stroke="#808080" stroke-width="1.1700000000000002"/>
<rect x="692.4" y="294.3" width="13.0" height="6.4" rx="0" fill="none" stroke="#808080" stroke-width="1.3"/>
<line x1="695.3" y1="294.3" x2="695.3" y2="300.8" stroke="#808080" stroke-width="1.1700000000000002"/>
<line x1="702.5" y1="294.3" x2="702.5" y2="300.8" stroke="#808080" stroke-width="1.1700000000000002"/>
<rect x="692.4" y="300.8" width="13.0" height="6.4" rx="0" fill="none" stroke="#808080" stroke-width="1.3"/>
<line x1="695.3" y1="300.8" x2="695.3" y2="307.2" stroke="#808080" stroke-width="1.1700000000000002"/>
<line x1="702.5" y1="300.8" x2="702.5" y2="307.2" stroke="#808080" stroke-width="1.1700000000000002"/>
<rect x="706.2" y="296.0" width="13.5" height="6.0" rx="0" fill="none" stroke="#808080" stroke-width="1.3"/>
<line x1="709.2" y1="296.0" x2="709.2" y2="302.0" stroke="#808080" stroke-width="1.1700000000000002"/>
<line x1="716.7" y1="296.0" x2="716.7" y2="302.0" stroke="#808080" stroke-width="1.1700000000000002"/>
<rect x="754.5" y="309.5" width="47.0" height="46.0" rx="0" fill="none" stroke="#999" stroke-width="1.2"/>
<text x="762" y="325" font-size="15.5" fill="#6b747e" textLength="33" lengthAdjust="spacingAndGlyphs">k210</text>
<rect x="812.6" y="316.4" width="12.3" height="5.8" rx="0" fill="none" stroke="#808080" stroke-width="1.3"/>
<line x1="815.3" y1="316.4" x2="815.3" y2="322.1" stroke="#808080" stroke-width="1.1700000000000002"/>
<line x1="822.2" y1="316.4" x2="822.2" y2="322.1" stroke="#808080" stroke-width="1.1700000000000002"/>
<rect x="812.6" y="322.1" width="12.3" height="5.8" rx="0" fill="none" stroke="#808080" stroke-width="1.3"/>
<line x1="815.3" y1="322.1" x2="815.3" y2="327.9" stroke="#808080" stroke-width="1.1700000000000002"/>
<line x1="822.2" y1="322.1" x2="822.2" y2="327.9" stroke="#808080" stroke-width="1.1700000000000002"/>
<rect x="811.6" y="328.4" width="19.0" height="9.5" rx="0" fill="none" stroke="#808080" stroke-width="1.3"/>
<line x1="816.0" y1="328.4" x2="816.0" y2="337.9" stroke="#808080" stroke-width="1.3"/>
<line x1="826.0" y1="328.4" x2="826.0" y2="337.9" stroke="#808080" stroke-width="1.3"/>
<rect x="812.6" y="352.9" width="13.1" height="6.5" rx="0" fill="none" stroke="#808080" stroke-width="1.3"/>
<line x1="815.5" y1="352.9" x2="815.5" y2="359.4" stroke="#808080" stroke-width="1.1700000000000002"/>
<line x1="822.8" y1="352.9" x2="822.8" y2="359.4" stroke="#808080" stroke-width="1.1700000000000002"/>
<rect x="812.6" y="359.4" width="13.1" height="6.4" rx="0" fill="none" stroke="#808080" stroke-width="1.3"/>
<line x1="815.5" y1="359.4" x2="815.5" y2="365.8" stroke="#808080" stroke-width="1.1700000000000002"/>
<line x1="822.8" y1="359.4" x2="822.8" y2="365.8" stroke="#808080" stroke-width="1.1700000000000002"/>
<rect x="805.8" y="354.0" width="6.1" height="12.2" rx="0" fill="none" stroke="#808080" stroke-width="1.3"/>
<line x1="805.8" y1="356.7" x2="811.9" y2="356.7" stroke="#808080" stroke-width="1.1700000000000002"/>
<line x1="805.8" y1="363.5" x2="811.9" y2="363.5" stroke="#808080" stroke-width="1.1700000000000002"/>
<rect x="799.3" y="370.0" width="18.7" height="9.5" rx="0" fill="none" stroke="#808080" stroke-width="1.3"/>
<line x1="803.3" y1="370.0" x2="803.3" y2="379.5" stroke="#808080" stroke-width="1.1700000000000002"/>
<line x1="814.0" y1="370.0" x2="814.0" y2="379.5" stroke="#808080" stroke-width="1.1700000000000002"/>
<rect x="721.5" y="387.6" width="18.7" height="10.0" rx="0" fill="none" stroke="#808080" stroke-width="1.3"/>
<line x1="725.5" y1="387.6" x2="725.5" y2="397.6" stroke="#808080" stroke-width="1.1700000000000002"/>
<line x1="736.2" y1="387.6" x2="736.2" y2="397.6" stroke="#808080" stroke-width="1.1700000000000002"/>
<rect x="682.5" y="396.1" width="6.1" height="12.3" rx="0" fill="none" stroke="#808080" stroke-width="1.3"/>
<line x1="682.5" y1="398.8" x2="688.6" y2="398.8" stroke="#808080" stroke-width="1.1700000000000002"/>
<line x1="682.5" y1="405.7" x2="688.6" y2="405.7" stroke="#808080" stroke-width="1.1700000000000002"/>
<rect x="637.6" y="333.7" width="37.2" height="20.6" rx="0" fill="none" stroke="#808080" stroke-width="1.5"/>
<rect x="640.3" y="334.7" width="31.4" height="18.4" rx="0" fill="none" stroke="#808080" stroke-width="1.3"/>
<line x1="640.3" y1="340.6" x2="671.7" y2="340.6" stroke="#808080" stroke-width="1.3"/>
<line x1="640.3" y1="347.5" x2="671.7" y2="347.5" stroke="#808080" stroke-width="1.3"/>
<rect x="646.4" y="342.4" width="19.2" height="3.1" rx="0" fill="none" stroke="#808080" stroke-width="1.2"/>
<rect x="895.5" y="333.8" width="37.3" height="20.6" rx="0" fill="none" stroke="#808080" stroke-width="1.5"/>
<rect x="898.2" y="334.8" width="31.5" height="18.4" rx="0" fill="none" stroke="#808080" stroke-width="1.3"/>
<line x1="898.2" y1="340.7" x2="929.7" y2="340.7" stroke="#808080" stroke-width="1.3"/>
<line x1="898.2" y1="347.6" x2="929.7" y2="347.6" stroke="#808080" stroke-width="1.3"/>
<rect x="904.3" y="342.5" width="19.3" height="3.1" rx="0" fill="none" stroke="#808080" stroke-width="1.2"/>
<text transform="translate(632.2,366.5) rotate(90)" font-size="11" fill="#747474" stroke="#747474" stroke-width="0.25" textLength="107" lengthAdjust="spacingAndGlyphs">盛思1956–K210–B V1.1</text>
<rect x="669.4" y="410.7" width="9.2" height="18.3" rx="0" fill="none" stroke="#808080" stroke-width="1.3"/>
<line x1="669.4" y1="413.7" x2="678.6" y2="413.7" stroke="#808080" stroke-width="1.3"/>
<line x1="669.4" y1="425.2" x2="678.6" y2="425.2" stroke="#808080" stroke-width="1.3"/>
<rect x="679.4" y="414.5" width="12.2" height="6.5" rx="0" fill="none" stroke="#808080" stroke-width="1.3"/>
<line x1="682.1" y1="414.5" x2="682.1" y2="421.0" stroke="#808080" stroke-width="1.1700000000000002"/>
<line x1="688.9" y1="414.5" x2="688.9" y2="421.0" stroke="#808080" stroke-width="1.1700000000000002"/>
<rect x="679.4" y="421.0" width="12.2" height="6.5" rx="0" fill="none" stroke="#808080" stroke-width="1.3"/>
<line x1="682.1" y1="421.0" x2="682.1" y2="427.5" stroke="#808080" stroke-width="1.1700000000000002"/>
<line x1="688.9" y1="421.0" x2="688.9" y2="427.5" stroke="#808080" stroke-width="1.1700000000000002"/>
<rect x="696.2" y="413.7" width="17.7" height="9.2" rx="0" fill="none" stroke="#808080" stroke-width="1.3"/>
<line x1="700.1" y1="413.7" x2="700.1" y2="422.9" stroke="#808080" stroke-width="1.1700000000000002"/>
<line x1="710.0" y1="413.7" x2="710.0" y2="422.9" stroke="#808080" stroke-width="1.1700000000000002"/>
<rect x="647.2" y="429.5" width="18.4" height="9.2" rx="0" fill="none" stroke="#808080" stroke-width="1.3"/>
<line x1="651.2" y1="429.5" x2="651.2" y2="438.7" stroke="#808080" stroke-width="1.1700000000000002"/>
<line x1="661.6" y1="429.5" x2="661.6" y2="438.7" stroke="#808080" stroke-width="1.1700000000000002"/>
<rect x="656.4" y="447.5" width="4.1" height="42.1" rx="0" fill="none" stroke="#808080" stroke-width="1.3"/>
<rect x="667.6" y="431.1" width="23.6" height="27.1" rx="0" fill="none" stroke="#808080" stroke-width="1.3"/>
<rect x="692.0" y="443.9" width="5.8" height="12.7" rx="0" fill="none" stroke="#808080" stroke-width="1.3"/>
<line x1="692.0" y1="446.7" x2="697.8" y2="446.7" stroke="#808080" stroke-width="1.1700000000000002"/>
<line x1="692.0" y1="453.8" x2="697.8" y2="453.8" stroke="#808080" stroke-width="1.1700000000000002"/>
<rect x="705.0" y="428.4" width="35.6" height="34.5" rx="0" fill="none" stroke="#808080" stroke-width="1.3"/>
<rect x="709.0" y="424.8" width="2.6" height="5.6" rx="0" fill="none" stroke="#808080" stroke-width="1"/>
<rect x="709.0" y="461.3" width="2.6" height="6.1" rx="0" fill="none" stroke="#808080" stroke-width="1"/>
<rect x="701.3" y="432.0" width="5.2" height="2.5" rx="0" fill="none" stroke="#808080" stroke-width="1"/>
<rect x="738.6" y="432.0" width="5.9" height="2.5" rx="0" fill="none" stroke="#808080" stroke-width="1"/>
<rect x="713.1" y="424.8" width="2.6" height="5.6" rx="0" fill="none" stroke="#808080" stroke-width="1"/>
<rect x="713.1" y="461.3" width="2.6" height="6.1" rx="0" fill="none" stroke="#808080" stroke-width="1"/>
<rect x="701.3" y="436.0" width="5.2" height="2.5" rx="0" fill="none" stroke="#808080" stroke-width="1"/>
<rect x="738.6" y="436.0" width="5.9" height="2.5" rx="0" fill="none" stroke="#808080" stroke-width="1"/>
<rect x="717.2" y="424.8" width="2.6" height="5.6" rx="0" fill="none" stroke="#808080" stroke-width="1"/>
<rect x="717.2" y="461.3" width="2.6" height="6.1" rx="0" fill="none" stroke="#808080" stroke-width="1"/>
<rect x="701.3" y="440.0" width="5.2" height="2.5" rx="0" fill="none" stroke="#808080" stroke-width="1"/>
<rect x="738.6" y="440.0" width="5.9" height="2.5" rx="0" fill="none" stroke="#808080" stroke-width="1"/>
<rect x="721.3" y="424.8" width="2.6" height="5.6" rx="0" fill="none" stroke="#808080" stroke-width="1"/>
<rect x="721.3" y="461.3" width="2.6" height="6.1" rx="0" fill="none" stroke="#808080" stroke-width="1"/>
<rect x="701.3" y="444.0" width="5.2" height="2.5" rx="0" fill="none" stroke="#808080" stroke-width="1"/>
<rect x="738.6" y="444.0" width="5.9" height="2.5" rx="0" fill="none" stroke="#808080" stroke-width="1"/>
<rect x="725.4" y="424.8" width="2.6" height="5.6" rx="0" fill="none" stroke="#808080" stroke-width="1"/>
<rect x="725.4" y="461.3" width="2.6" height="6.1" rx="0" fill="none" stroke="#808080" stroke-width="1"/>
<rect x="701.3" y="448.0" width="5.2" height="2.5" rx="0" fill="none" stroke="#808080" stroke-width="1"/>
<rect x="738.6" y="448.0" width="5.9" height="2.5" rx="0" fill="none" stroke="#808080" stroke-width="1"/>
<rect x="729.5" y="424.8" width="2.6" height="5.6" rx="0" fill="none" stroke="#808080" stroke-width="1"/>
<rect x="729.5" y="461.3" width="2.6" height="6.1" rx="0" fill="none" stroke="#808080" stroke-width="1"/>
<rect x="701.3" y="452.0" width="5.2" height="2.5" rx="0" fill="none" stroke="#808080" stroke-width="1"/>
<rect x="738.6" y="452.0" width="5.9" height="2.5" rx="0" fill="none" stroke="#808080" stroke-width="1"/>
<rect x="733.6" y="424.8" width="2.6" height="5.6" rx="0" fill="none" stroke="#808080" stroke-width="1"/>
<rect x="733.6" y="461.3" width="2.6" height="6.1" rx="0" fill="none" stroke="#808080" stroke-width="1"/>
<rect x="701.3" y="456.0" width="5.2" height="2.5" rx="0" fill="none" stroke="#808080" stroke-width="1"/>
<rect x="738.6" y="456.0" width="5.9" height="2.5" rx="0" fill="none" stroke="#808080" stroke-width="1"/>
<rect x="672.5" y="459.2" width="12.3" height="6.2" rx="0" fill="none" stroke="#808080" stroke-width="1.3"/>
<line x1="675.2" y1="459.2" x2="675.2" y2="465.4" stroke="#808080" stroke-width="1.1700000000000002"/>
<line x1="682.1" y1="459.2" x2="682.1" y2="465.4" stroke="#808080" stroke-width="1.1700000000000002"/>
<rect x="686.3" y="459.2" width="12.2" height="6.2" rx="0" fill="none" stroke="#808080" stroke-width="1.3"/>
<line x1="689.0" y1="459.2" x2="689.0" y2="465.4" stroke="#808080" stroke-width="1.1700000000000002"/>
<line x1="695.8" y1="459.2" x2="695.8" y2="465.4" stroke="#808080" stroke-width="1.1700000000000002"/>
<rect x="671.0" y="465.8" width="13.0" height="6.5" rx="0" fill="none" stroke="#808080" stroke-width="1.3"/>
<line x1="673.9" y1="465.8" x2="673.9" y2="472.3" stroke="#808080" stroke-width="1.1700000000000002"/>
<line x1="681.1" y1="465.8" x2="681.1" y2="472.3" stroke="#808080" stroke-width="1.1700000000000002"/>
<rect x="671.0" y="472.3" width="13.0" height="6.5" rx="0" fill="none" stroke="#808080" stroke-width="1.3"/>
<line x1="673.9" y1="472.3" x2="673.9" y2="478.9" stroke="#808080" stroke-width="1.1700000000000002"/>
<line x1="681.1" y1="472.3" x2="681.1" y2="478.9" stroke="#808080" stroke-width="1.1700000000000002"/>
<rect x="671.0" y="478.9" width="13.0" height="6.5" rx="0" fill="none" stroke="#808080" stroke-width="1.3"/>
<line x1="673.9" y1="478.9" x2="673.9" y2="485.4" stroke="#808080" stroke-width="1.1700000000000002"/>
<line x1="681.1" y1="478.9" x2="681.1" y2="485.4" stroke="#808080" stroke-width="1.1700000000000002"/>
<rect x="671.0" y="485.4" width="13.0" height="6.5" rx="0" fill="none" stroke="#808080" stroke-width="1.3"/>
<line x1="673.9" y1="485.4" x2="673.9" y2="491.9" stroke="#808080" stroke-width="1.1700000000000002"/>
<line x1="681.1" y1="485.4" x2="681.1" y2="491.9" stroke="#808080" stroke-width="1.1700000000000002"/>
<rect x="687.0" y="472.4" width="13.0" height="6.3" rx="0" fill="none" stroke="#808080" stroke-width="1.3"/>
<line x1="689.9" y1="472.4" x2="689.9" y2="478.7" stroke="#808080" stroke-width="1.1700000000000002"/>
<line x1="697.1" y1="472.4" x2="697.1" y2="478.7" stroke="#808080" stroke-width="1.1700000000000002"/>
<rect x="687.0" y="478.7" width="13.0" height="6.3" rx="0" fill="none" stroke="#808080" stroke-width="1.3"/>
<line x1="689.9" y1="478.7" x2="689.9" y2="485.0" stroke="#808080" stroke-width="1.1700000000000002"/>
<line x1="697.1" y1="478.7" x2="697.1" y2="485.0" stroke="#808080" stroke-width="1.1700000000000002"/>
<rect x="701.6" y="477.3" width="13.0" height="6.6" rx="0" fill="none" stroke="#808080" stroke-width="1.3"/>
<line x1="704.5" y1="477.3" x2="704.5" y2="483.9" stroke="#808080" stroke-width="1.1700000000000002"/>
<line x1="711.7" y1="477.3" x2="711.7" y2="483.9" stroke="#808080" stroke-width="1.1700000000000002"/>
<rect x="701.6" y="483.9" width="13.0" height="6.5" rx="0" fill="none" stroke="#808080" stroke-width="1.3"/>
<line x1="704.5" y1="483.9" x2="704.5" y2="490.4" stroke="#808080" stroke-width="1.1700000000000002"/>
<line x1="711.7" y1="483.9" x2="711.7" y2="490.4" stroke="#808080" stroke-width="1.1700000000000002"/>
<rect x="631.0" y="491.3" width="7.0" height="7.6" rx="0" fill="none" stroke="#808080" stroke-width="1.3"/>
<rect x="640.8" y="491.3" width="7.6" height="7.6" rx="0" fill="none" stroke="#808080" stroke-width="1.3"/>
<rect x="631.0" y="527.0" width="7.0" height="8.4" rx="0" fill="none" stroke="#808080" stroke-width="1.3"/>
<rect x="640.8" y="527.0" width="7.6" height="8.4" rx="0" fill="none" stroke="#808080" stroke-width="1.3"/>
<rect x="920.3" y="491.3" width="8.7" height="9.3" rx="0" fill="none" stroke="#808080" stroke-width="1.3"/>
<rect x="930.0" y="491.3" width="8.8" height="9.3" rx="0" fill="none" stroke="#808080" stroke-width="1.3"/>
<rect x="920.3" y="526.0" width="8.7" height="9.0" rx="0" fill="none" stroke="#808080" stroke-width="1.3"/>
<rect x="930.0" y="526.0" width="8.8" height="9.0" rx="0" fill="none" stroke="#808080" stroke-width="1.3"/>
<rect x="628.9" y="498.2" width="22.6" height="32.0" rx="0" fill="none" stroke="#808080" stroke-width="1.6"/>
<rect x="622.0" y="505.2" width="6.9" height="17.4" rx="0" fill="none" stroke="#808080" stroke-width="1.2"/>
<rect x="629.5" y="510.0" width="3.5" height="8.0" rx="0" fill="none" stroke="#808080" stroke-width="1"/>
<rect x="917.6" y="498.0" width="22.9" height="31.7" rx="0" fill="none" stroke="#808080" stroke-width="1.6"/>
<rect x="940.5" y="505.2" width="6.3" height="17.4" rx="0" fill="none" stroke="#808080" stroke-width="1.2"/>
<rect x="665.1" y="508.7" width="12.5" height="5.8" rx="0" fill="none" stroke="#808080" stroke-width="1.3"/>
<line x1="667.9" y1="508.7" x2="667.9" y2="514.5" stroke="#808080" stroke-width="1.1700000000000002"/>
<line x1="674.9" y1="508.7" x2="674.9" y2="514.5" stroke="#808080" stroke-width="1.1700000000000002"/>
<rect x="660.2" y="517.3" width="17.4" height="11.1" rx="0" fill="none" stroke="#808080" stroke-width="1.3"/>
<rect x="654.7" y="519.8" width="5.5" height="6.2" rx="0" fill="none" stroke="#aaa" stroke-width="1.3"/>
<rect x="677.6" y="519.8" width="5.6" height="6.2" rx="0" fill="none" stroke="#aaa" stroke-width="1.3"/>
<rect x="685.3" y="502.4" width="17.7" height="9.1" rx="0" fill="none" stroke="#808080" stroke-width="1.3"/>
<line x1="689.2" y1="502.4" x2="689.2" y2="511.5" stroke="#808080" stroke-width="1.1700000000000002"/>
<line x1="699.1" y1="502.4" x2="699.1" y2="511.5" stroke="#808080" stroke-width="1.1700000000000002"/>
<rect x="705.2" y="502.4" width="18.1" height="9.1" rx="0" fill="none" stroke="#808080" stroke-width="1.3"/>
<line x1="709.2" y1="502.4" x2="709.2" y2="511.5" stroke="#808080" stroke-width="1.1700000000000002"/>
<line x1="719.3" y1="502.4" x2="719.3" y2="511.5" stroke="#808080" stroke-width="1.1700000000000002"/>
<rect x="705.2" y="513.5" width="18.1" height="9.1" rx="0" fill="none" stroke="#808080" stroke-width="1.3"/>
<line x1="709.2" y1="513.5" x2="709.2" y2="522.6" stroke="#808080" stroke-width="1.1700000000000002"/>
<line x1="719.3" y1="513.5" x2="719.3" y2="522.6" stroke="#808080" stroke-width="1.1700000000000002"/>
<rect x="689.1" y="547.0" width="35.6" height="22.9" rx="0" fill="none" stroke="#808080" stroke-width="1.5"/>
<rect x="693.2" y="549.0" width="27.6" height="17.4" rx="0" fill="none" stroke="#808080" stroke-width="1.3"/>
<rect x="697.1" y="553.2" width="5.6" height="7.7" rx="0" fill="none" stroke="#808080" stroke-width="1.2"/>
<rect x="709.7" y="553.2" width="4.8" height="7.7" rx="0" fill="none" stroke="#808080" stroke-width="1.2"/>
<line x1="699.0" y1="559.0" x2="713.0" y2="559.0" stroke="#808080" stroke-width="1.2"/>
<line x1="693.2" y1="563.5" x2="720.8" y2="563.5" stroke="#808080" stroke-width="1.2"/>
<line x1="699.8" y1="559.0" x2="699.8" y2="569.5" stroke="#808080" stroke-width="1.2"/>
<line x1="714.4" y1="559.0" x2="714.4" y2="569.5" stroke="#808080" stroke-width="1.2"/>
<rect x="752.1" y="447.6" width="18.5" height="10.1" rx="0" fill="none" stroke="#808080" stroke-width="1.3"/>
<line x1="756.1" y1="447.6" x2="756.1" y2="457.7" stroke="#808080" stroke-width="1.1700000000000002"/>
<line x1="766.6" y1="447.6" x2="766.6" y2="457.7" stroke="#808080" stroke-width="1.1700000000000002"/>
<rect x="754.0" y="419.0" width="23.4" height="27.4" rx="0" fill="none" stroke="#aaa" stroke-width="1.1"/>
<rect x="727.3" y="398.3" width="6.1" height="6.0" rx="0" fill="none" stroke="#808080" stroke-width="1.3"/>
<line x1="728.6" y1="398.3" x2="728.6" y2="404.3" stroke="#808080" stroke-width="1.1700000000000002"/>
<line x1="732.1" y1="398.3" x2="732.1" y2="404.3" stroke="#808080" stroke-width="1.1700000000000002"/>
<rect x="727.3" y="404.3" width="6.1" height="6.0" rx="0" fill="none" stroke="#808080" stroke-width="1.3"/>
<line x1="728.6" y1="404.3" x2="728.6" y2="410.3" stroke="#808080" stroke-width="1.1700000000000002"/>
<line x1="732.1" y1="404.3" x2="732.1" y2="410.3" stroke="#808080" stroke-width="1.1700000000000002"/>
<rect x="727.3" y="410.3" width="6.1" height="6.0" rx="0" fill="none" stroke="#808080" stroke-width="1.3"/>
<line x1="728.6" y1="410.3" x2="728.6" y2="416.3" stroke="#808080" stroke-width="1.1700000000000002"/>
<line x1="732.1" y1="410.3" x2="732.1" y2="416.3" stroke="#808080" stroke-width="1.1700000000000002"/>
<rect x="727.3" y="416.3" width="6.1" height="6.0" rx="0" fill="none" stroke="#808080" stroke-width="1.3"/>
<line x1="728.6" y1="416.3" x2="728.6" y2="422.3" stroke="#808080" stroke-width="1.1700000000000002"/>
<line x1="732.1" y1="416.3" x2="732.1" y2="422.3" stroke="#808080" stroke-width="1.1700000000000002"/>
<rect x="733.4" y="398.3" width="6.1" height="6.0" rx="0" fill="none" stroke="#808080" stroke-width="1.3"/>
<line x1="734.7" y1="398.3" x2="734.7" y2="404.3" stroke="#808080" stroke-width="1.1700000000000002"/>
<line x1="738.2" y1="398.3" x2="738.2" y2="404.3" stroke="#808080" stroke-width="1.1700000000000002"/>
<rect x="733.4" y="404.3" width="6.1" height="6.0" rx="0" fill="none" stroke="#808080" stroke-width="1.3"/>
<line x1="734.7" y1="404.3" x2="734.7" y2="410.3" stroke="#808080" stroke-width="1.1700000000000002"/>
<line x1="738.2" y1="404.3" x2="738.2" y2="410.3" stroke="#808080" stroke-width="1.1700000000000002"/>
<rect x="733.4" y="410.3" width="6.1" height="6.0" rx="0" fill="none" stroke="#808080" stroke-width="1.3"/>
<line x1="734.7" y1="410.3" x2="734.7" y2="416.3" stroke="#808080" stroke-width="1.1700000000000002"/>
<line x1="738.2" y1="410.3" x2="738.2" y2="416.3" stroke="#808080" stroke-width="1.1700000000000002"/>
<rect x="733.4" y="416.3" width="6.1" height="6.0" rx="0" fill="none" stroke="#808080" stroke-width="1.3"/>
<line x1="734.7" y1="416.3" x2="734.7" y2="422.3" stroke="#808080" stroke-width="1.1700000000000002"/>
<line x1="738.2" y1="416.3" x2="738.2" y2="422.3" stroke="#808080" stroke-width="1.1700000000000002"/>
<rect x="740.0" y="411.0" width="12.3" height="5.9" rx="0" fill="none" stroke="#808080" stroke-width="1.3"/>
<line x1="742.7" y1="411.0" x2="742.7" y2="416.9" stroke="#808080" stroke-width="1.1700000000000002"/>
<line x1="749.6" y1="411.0" x2="749.6" y2="416.9" stroke="#808080" stroke-width="1.1700000000000002"/>
<rect x="740.0" y="416.9" width="12.3" height="5.9" rx="0" fill="none" stroke="#808080" stroke-width="1.3"/>
<line x1="742.7" y1="416.9" x2="742.7" y2="422.8" stroke="#808080" stroke-width="1.1700000000000002"/>
<line x1="749.6" y1="416.9" x2="749.6" y2="422.8" stroke="#808080" stroke-width="1.1700000000000002"/>
<rect x="755.7" y="409.0" width="18.3" height="10.0" rx="0" fill="none" stroke="#808080" stroke-width="1.3"/>
<line x1="760.0" y1="409.0" x2="760.0" y2="419.0" stroke="#808080" stroke-width="1.3"/>
<line x1="770.0" y1="409.0" x2="770.0" y2="419.0" stroke="#808080" stroke-width="1.3"/>
<rect x="774.6" y="405.0" width="7.8" height="14.0" rx="0" fill="none" stroke="#808080" stroke-width="1.3"/>
<rect x="788.0" y="405.0" width="7.8" height="14.0" rx="0" fill="none" stroke="#808080" stroke-width="1.3"/>
<rect x="746.2" y="425.6" width="6.1" height="5.9" rx="0" fill="none" stroke="#808080" stroke-width="1.3"/>
<line x1="746.2" y1="426.9" x2="752.3" y2="426.9" stroke="#808080" stroke-width="1.1700000000000002"/>
<line x1="746.2" y1="430.2" x2="752.3" y2="430.2" stroke="#808080" stroke-width="1.1700000000000002"/>
<rect x="746.2" y="432.8" width="6.1" height="5.6" rx="0" fill="none" stroke="#808080" stroke-width="1.3"/>
<line x1="746.2" y1="434.0" x2="752.3" y2="434.0" stroke="#808080" stroke-width="1.1700000000000002"/>
<line x1="746.2" y1="437.2" x2="752.3" y2="437.2" stroke="#808080" stroke-width="1.1700000000000002"/>
<rect x="700.0" y="413.4" width="14.0" height="9.4" rx="0" fill="none" stroke="#aaa" stroke-width="1.3"/>
<rect x="820.3" y="413.3" width="103.1" height="22.4" rx="0" fill="none" stroke="#808080" stroke-width="1.6"/>
<line x1="820.3" y1="426.5" x2="923.4" y2="426.5" stroke="#808080" stroke-width="1.3"/>
<line x1="829.6" y1="413.3" x2="829.6" y2="435.7" stroke="#808080" stroke-width="1.3"/>
<line x1="913.5" y1="413.3" x2="913.5" y2="435.7" stroke="#808080" stroke-width="1.3"/>
<line x1="831.0" y1="404.5" x2="831.0" y2="417.7" stroke="#8c8c8c" stroke-width="1.0"/>
<line x1="834.1" y1="404.5" x2="834.1" y2="417.7" stroke="#8c8c8c" stroke-width="1.0"/>
<line x1="837.1" y1="404.5" x2="837.1" y2="417.7" stroke="#8c8c8c" stroke-width="1.0"/>
<line x1="840.2" y1="404.5" x2="840.2" y2="417.7" stroke="#8c8c8c" stroke-width="1.0"/>
<line x1="843.3" y1="404.5" x2="843.3" y2="417.7" stroke="#8c8c8c" stroke-width="1.0"/>
<line x1="846.4" y1="404.5" x2="846.4" y2="417.7" stroke="#8c8c8c" stroke-width="1.0"/>
<line x1="849.4" y1="404.5" x2="849.4" y2="417.7" stroke="#8c8c8c" stroke-width="1.0"/>
<line x1="852.5" y1="404.5" x2="852.5" y2="417.7" stroke="#8c8c8c" stroke-width="1.0"/>
<line x1="855.6" y1="404.5" x2="855.6" y2="417.7" stroke="#8c8c8c" stroke-width="1.0"/>
<line x1="858.6" y1="404.5" x2="858.6" y2="417.7" stroke="#8c8c8c" stroke-width="1.0"/>
<line x1="861.7" y1="404.5" x2="861.7" y2="417.7" stroke="#8c8c8c" stroke-width="1.0"/>
<line x1="864.8" y1="404.5" x2="864.8" y2="417.7" stroke="#8c8c8c" stroke-width="1.0"/>
<line x1="867.8" y1="404.5" x2="867.8" y2="417.7" stroke="#8c8c8c" stroke-width="1.0"/>
<line x1="870.9" y1="404.5" x2="870.9" y2="417.7" stroke="#8c8c8c" stroke-width="1.0"/>
<line x1="874.0" y1="404.5" x2="874.0" y2="417.7" stroke="#8c8c8c" stroke-width="1.0"/>
<line x1="877.1" y1="404.5" x2="877.1" y2="417.7" stroke="#8c8c8c" stroke-width="1.0"/>
<line x1="880.1" y1="404.5" x2="880.1" y2="417.7" stroke="#8c8c8c" stroke-width="1.0"/>
<line x1="883.2" y1="404.5" x2="883.2" y2="417.7" stroke="#8c8c8c" stroke-width="1.0"/>
<line x1="886.3" y1="404.5" x2="886.3" y2="417.7" stroke="#8c8c8c" stroke-width="1.0"/>
<line x1="889.3" y1="404.5" x2="889.3" y2="417.7" stroke="#8c8c8c" stroke-width="1.0"/>
<line x1="892.4" y1="404.5" x2="892.4" y2="417.7" stroke="#8c8c8c" stroke-width="1.0"/>
<line x1="895.5" y1="404.5" x2="895.5" y2="417.7" stroke="#8c8c8c" stroke-width="1.0"/>
<line x1="898.5" y1="404.5" x2="898.5" y2="417.7" stroke="#8c8c8c" stroke-width="1.0"/>
<line x1="901.6" y1="404.5" x2="901.6" y2="417.7" stroke="#8c8c8c" stroke-width="1.0"/>
<line x1="904.7" y1="404.5" x2="904.7" y2="417.7" stroke="#8c8c8c" stroke-width="1.0"/>
<line x1="907.8" y1="404.5" x2="907.8" y2="417.7" stroke="#8c8c8c" stroke-width="1.0"/>
<line x1="910.8" y1="404.5" x2="910.8" y2="417.7" stroke="#8c8c8c" stroke-width="1.0"/>
<rect x="829.0" y="404.5" width="83.5" height="13.2" rx="0" fill="none" stroke="#aaa" stroke-width="1"/>
<rect x="808.2" y="405.3" width="19.8" height="14.3" rx="0" fill="none" stroke="#808080" stroke-width="1.3"/>
<rect x="831.8" y="393.2" width="8.2" height="7.2" rx="0" fill="none" stroke="#808080" stroke-width="1.3"/>
<line x1="833.6" y1="393.2" x2="833.6" y2="400.4" stroke="#808080" stroke-width="1.1700000000000002"/>
<line x1="838.2" y1="393.2" x2="838.2" y2="400.4" stroke="#808080" stroke-width="1.1700000000000002"/>
<path d="M821 462.2 V509.5 Q821 512.5 824 512.5 H912.3 Q915.3 512.5 915.3 509.5 V447.6 H909.2 V462.2 Z" fill="none" stroke="#8c8c8c" stroke-width="1.3"/>
<line x1="837.7" y1="436.0" x2="837.7" y2="512.5" stroke="#808080" stroke-width="1.3"/>
<line x1="905.4" y1="436.0" x2="905.4" y2="512.5" stroke="#808080" stroke-width="1.3"/>
<path d="M837.7 463.0 H857.0 L871.0 449.0 V436" fill="none" stroke="#9a9a9a" stroke-width="0.75"/>
<path d="M837.7 464.7 H857.4 L872.4 449.8 V436" fill="none" stroke="#9a9a9a" stroke-width="0.75"/>
<path d="M837.7 466.5 H857.9 L873.8 450.5 V436" fill="none" stroke="#9a9a9a" stroke-width="0.75"/>
<path d="M837.7 468.2 H858.3 L875.3 451.3 V436" fill="none" stroke="#9a9a9a" stroke-width="0.75"/>
<path d="M837.7 470.0 H858.7 L876.7 452.0 V436" fill="none" stroke="#9a9a9a" stroke-width="0.75"/>
<path d="M837.7 471.7 H859.1 L878.1 452.8 V436" fill="none" stroke="#9a9a9a" stroke-width="0.75"/>
<path d="M837.7 473.5 H859.6 L879.5 453.5 V436" fill="none" stroke="#9a9a9a" stroke-width="0.75"/>
<path d="M837.7 475.2 H860.0 L880.9 454.3 V436" fill="none" stroke="#9a9a9a" stroke-width="0.75"/>
<path d="M837.7 477.0 H860.4 L882.4 455.1 V436" fill="none" stroke="#9a9a9a" stroke-width="0.75"/>
<path d="M837.7 478.7 H860.9 L883.8 455.8 V436" fill="none" stroke="#9a9a9a" stroke-width="0.75"/>
<path d="M837.7 480.5 H861.3 L885.2 456.6 V436" fill="none" stroke="#9a9a9a" stroke-width="0.75"/>
<path d="M837.7 482.2 H861.7 L886.6 457.3 V436" fill="none" stroke="#9a9a9a" stroke-width="0.75"/>
<path d="M837.7 484.0 H862.1 L888.0 458.1 V436" fill="none" stroke="#9a9a9a" stroke-width="0.75"/>
<path d="M837.7 485.7 H862.6 L889.4 458.8 V436" fill="none" stroke="#9a9a9a" stroke-width="0.75"/>
<path d="M837.7 487.5 H863.0 L890.9 459.6 V436" fill="none" stroke="#9a9a9a" stroke-width="0.75"/>
<path d="M837.7 489.2 H863.4 L892.3 460.4 V436" fill="none" stroke="#9a9a9a" stroke-width="0.75"/>
<path d="M837.7 491.0 H863.9 L893.7 461.1 V436" fill="none" stroke="#9a9a9a" stroke-width="0.75"/>
<path d="M837.7 492.7 H864.3 L895.1 461.9 V436" fill="none" stroke="#9a9a9a" stroke-width="0.75"/>
<path d="M837.7 494.5 H864.7 L896.5 462.6 V436" fill="none" stroke="#9a9a9a" stroke-width="0.75"/>
<path d="M837.7 496.2 H865.1 L898.0 463.4 V436" fill="none" stroke="#9a9a9a" stroke-width="0.75"/>
<path d="M837.7 498.0 H865.6 L899.4 464.1 V436" fill="none" stroke="#9a9a9a" stroke-width="0.75"/>
<path d="M837.7 499.7 H866.0 L900.8 464.9 V436" fill="none" stroke="#9a9a9a" stroke-width="0.75"/>
<rect x="857.6" y="520.4" width="48.9" height="10.6" rx="0" fill="none" stroke="#808080" stroke-width="1.3"/>
<rect x="797.2" y="452.9" width="13.2" height="6.9" rx="0" fill="none" stroke="#808080" stroke-width="1.3"/>
<line x1="800.1" y1="452.9" x2="800.1" y2="459.8" stroke="#808080" stroke-width="1.1700000000000002"/>
<line x1="807.5" y1="452.9" x2="807.5" y2="459.8" stroke="#808080" stroke-width="1.1700000000000002"/>
<rect x="797.2" y="459.8" width="13.2" height="6.9" rx="0" fill="none" stroke="#808080" stroke-width="1.3"/>
<line x1="800.1" y1="459.8" x2="800.1" y2="466.7" stroke="#808080" stroke-width="1.1700000000000002"/>
<line x1="807.5" y1="459.8" x2="807.5" y2="466.7" stroke="#808080" stroke-width="1.1700000000000002"/>
<rect x="797.2" y="466.7" width="13.2" height="6.9" rx="0" fill="none" stroke="#808080" stroke-width="1.3"/>
<line x1="800.1" y1="466.7" x2="800.1" y2="473.6" stroke="#808080" stroke-width="1.1700000000000002"/>
<line x1="807.5" y1="466.7" x2="807.5" y2="473.6" stroke="#808080" stroke-width="1.1700000000000002"/>
<path d="M735.3 474.8 H811.4 V481.8 H814.9 V519.2 L809.6 524.4 V534 H814.9 V557.5 H791.4 L785.3 554.9 H731.8 V481.8 H733.6 V474.8 Z" fill="none" stroke="#8c8c8c" stroke-width="1.3"/>
<path d="M735.7 554.9 V579.2 H812.3 V568.8 H806 V564.4 H812.3 V557.5" fill="none" stroke="#999" stroke-width="1.2"/>
<rect x="733.6" y="494.0" width="5.5" height="17.4" rx="0" fill="none" stroke="#808080" stroke-width="1.2"/>
<rect x="736.0" y="497.0" width="2.0" height="13.0" rx="0" fill="none" stroke="#808080" stroke-width="0.8"/>
<rect x="845.6" y="547.7" width="12.8" height="9.5" rx="0" fill="none" stroke="#808080" stroke-width="1.3"/>
<line x1="848.4" y1="547.7" x2="848.4" y2="557.2" stroke="#808080" stroke-width="1.1700000000000002"/>
<line x1="855.6" y1="547.7" x2="855.6" y2="557.2" stroke="#808080" stroke-width="1.1700000000000002"/>
<rect x="845.6" y="557.2" width="12.8" height="9.5" rx="0" fill="none" stroke="#808080" stroke-width="1.3"/>
<line x1="848.4" y1="557.2" x2="848.4" y2="566.8" stroke="#808080" stroke-width="1.1700000000000002"/>
<line x1="855.6" y1="557.2" x2="855.6" y2="566.8" stroke="#808080" stroke-width="1.1700000000000002"/>
<rect x="858.4" y="547.7" width="12.9" height="9.5" rx="0" fill="none" stroke="#808080" stroke-width="1.3"/>
<line x1="861.2" y1="547.7" x2="861.2" y2="557.2" stroke="#808080" stroke-width="1.1700000000000002"/>
<line x1="868.5" y1="547.7" x2="868.5" y2="557.2" stroke="#808080" stroke-width="1.1700000000000002"/>
<rect x="858.4" y="557.2" width="12.9" height="9.5" rx="0" fill="none" stroke="#808080" stroke-width="1.3"/>
<line x1="861.2" y1="557.2" x2="861.2" y2="566.8" stroke="#808080" stroke-width="1.1700000000000002"/>
<line x1="868.5" y1="557.2" x2="868.5" y2="566.8" stroke="#808080" stroke-width="1.1700000000000002"/>
<rect x="883.2" y="551.4" width="5.8" height="16.7" rx="0" fill="none" stroke="#808080" stroke-width="1.3"/>
<line x1="883.2" y1="555.1" x2="889.0" y2="555.1" stroke="#808080" stroke-width="1.1700000000000002"/>
<line x1="883.2" y1="564.4" x2="889.0" y2="564.4" stroke="#808080" stroke-width="1.1700000000000002"/>
<rect x="895.7" y="551.4" width="6.1" height="16.7" rx="0" fill="none" stroke="#808080" stroke-width="1.3"/>
<line x1="895.7" y1="555.1" x2="901.8" y2="555.1" stroke="#808080" stroke-width="1.1700000000000002"/>
<line x1="895.7" y1="564.4" x2="901.8" y2="564.4" stroke="#808080" stroke-width="1.1700000000000002"/>
<rect x="843.2" y="153.2" width="12.2" height="6.2" rx="0" fill="none" stroke="#808080" stroke-width="1.3"/>
<line x1="845.9" y1="153.2" x2="845.9" y2="159.4" stroke="#808080" stroke-width="1.1700000000000002"/>
<line x1="852.7" y1="153.2" x2="852.7" y2="159.4" stroke="#808080" stroke-width="1.1700000000000002"/>
<rect x="831.3" y="159.4" width="24.1" height="12.2" rx="0" fill="none" stroke="#808080" stroke-width="1.3"/>
<line x1="848.5" y1="159.4" x2="848.5" y2="171.6" stroke="#808080" stroke-width="1.3"/>
<line x1="835.0" y1="159.4" x2="835.0" y2="171.6" stroke="#808080" stroke-width="1.3"/>
<rect x="843.2" y="172.0" width="12.2" height="6.9" rx="0" fill="none" stroke="#808080" stroke-width="1.3"/>
<line x1="845.9" y1="172.0" x2="845.9" y2="178.9" stroke="#808080" stroke-width="1.1700000000000002"/>
<line x1="852.7" y1="172.0" x2="852.7" y2="178.9" stroke="#808080" stroke-width="1.1700000000000002"/>
<rect x="843.9" y="179.6" width="12.2" height="6.2" rx="0" fill="none" stroke="#808080" stroke-width="1.3"/>
<line x1="846.6" y1="179.6" x2="846.6" y2="185.8" stroke="#808080" stroke-width="1.1700000000000002"/>
<line x1="853.4" y1="179.6" x2="853.4" y2="185.8" stroke="#808080" stroke-width="1.1700000000000002"/>
<rect x="843.9" y="185.8" width="12.2" height="6.2" rx="0" fill="none" stroke="#808080" stroke-width="1.3"/>
<line x1="846.6" y1="185.8" x2="846.6" y2="192.0" stroke="#808080" stroke-width="1.1700000000000002"/>
<line x1="853.4" y1="185.8" x2="853.4" y2="192.0" stroke="#808080" stroke-width="1.1700000000000002"/>
<rect x="859.3" y="148.3" width="12.9" height="6.0" rx="0" fill="none" stroke="#808080" stroke-width="1.3"/>
<line x1="862.1" y1="148.3" x2="862.1" y2="154.3" stroke="#808080" stroke-width="1.1700000000000002"/>
<line x1="869.4" y1="148.3" x2="869.4" y2="154.3" stroke="#808080" stroke-width="1.1700000000000002"/>
<rect x="858.4" y="155.2" width="9.2" height="18.4" rx="0" fill="none" stroke="#808080" stroke-width="1.3"/>
<line x1="858.4" y1="159.2" x2="867.6" y2="159.2" stroke="#808080" stroke-width="1.1700000000000002"/>
<line x1="858.4" y1="169.6" x2="867.6" y2="169.6" stroke="#808080" stroke-width="1.1700000000000002"/>
<rect x="860.0" y="176.6" width="4.6" height="21.8" rx="0" fill="none" stroke="#808080" stroke-width="1.3"/>
<rect x="865.7" y="176.6" width="4.2" height="21.8" rx="0" fill="none" stroke="#808080" stroke-width="1.3"/>
<rect x="871.5" y="176.6" width="4.1" height="21.8" rx="0" fill="none" stroke="#808080" stroke-width="1.3"/>
<rect x="858.4" y="183.5" width="18.8" height="8.1" rx="0" fill="none" stroke="#aaa" stroke-width="1.3"/>
<rect x="880.0" y="178.9" width="12.9" height="6.6" rx="0" fill="none" stroke="#808080" stroke-width="1.3"/>
<line x1="882.8" y1="178.9" x2="882.8" y2="185.5" stroke="#808080" stroke-width="1.1700000000000002"/>
<line x1="890.1" y1="178.9" x2="890.1" y2="185.5" stroke="#808080" stroke-width="1.1700000000000002"/>
<rect x="880.0" y="185.5" width="12.9" height="6.6" rx="0" fill="none" stroke="#808080" stroke-width="1.3"/>
<line x1="882.8" y1="185.5" x2="882.8" y2="192.0" stroke="#808080" stroke-width="1.1700000000000002"/>
<line x1="890.1" y1="185.5" x2="890.1" y2="192.0" stroke="#808080" stroke-width="1.1700000000000002"/>
<rect x="880.0" y="192.0" width="12.9" height="6.6" rx="0" fill="none" stroke="#808080" stroke-width="1.3"/>
<line x1="882.8" y1="192.0" x2="882.8" y2="198.6" stroke="#808080" stroke-width="1.1700000000000002"/>
<line x1="890.1" y1="192.0" x2="890.1" y2="198.6" stroke="#808080" stroke-width="1.1700000000000002"/>
<rect x="875.0" y="199.6" width="18.3" height="9.9" rx="0" fill="none" stroke="#808080" stroke-width="1.3"/>
<line x1="879.0" y1="199.6" x2="879.0" y2="209.5" stroke="#808080" stroke-width="1.1700000000000002"/>
<line x1="889.3" y1="199.6" x2="889.3" y2="209.5" stroke="#808080" stroke-width="1.1700000000000002"/>
<rect x="880.0" y="209.5" width="12.9" height="6.9" rx="0" fill="none" stroke="#808080" stroke-width="1.3"/>
<line x1="882.8" y1="209.5" x2="882.8" y2="216.4" stroke="#808080" stroke-width="1.1700000000000002"/>
<line x1="890.1" y1="209.5" x2="890.1" y2="216.4" stroke="#808080" stroke-width="1.1700000000000002"/>
<rect x="909.0" y="184.7" width="3.9" height="42.9" rx="0" fill="none" stroke="#808080" stroke-width="1.3"/>
<rect x="822.3" y="223.3" width="12.2" height="6.1" rx="0" fill="none" stroke="#808080" stroke-width="1.3"/>
<line x1="825.0" y1="223.3" x2="825.0" y2="229.4" stroke="#808080" stroke-width="1.1700000000000002"/>
<line x1="831.8" y1="223.3" x2="831.8" y2="229.4" stroke="#808080" stroke-width="1.1700000000000002"/>
<rect x="821.4" y="231.4" width="10.4" height="18.4" rx="0" fill="none" stroke="#808080" stroke-width="1.3"/>
<line x1="821.4" y1="235.4" x2="831.8" y2="235.4" stroke="#808080" stroke-width="1.1700000000000002"/>
<line x1="821.4" y1="245.8" x2="831.8" y2="245.8" stroke="#808080" stroke-width="1.1700000000000002"/>
<rect x="832.6" y="230.6" width="9.1" height="10.3" rx="0" fill="none" stroke="#808080" stroke-width="1.3"/>
<line x1="834.6" y1="230.6" x2="834.6" y2="240.9" stroke="#808080" stroke-width="1.1700000000000002"/>
<line x1="839.7" y1="230.6" x2="839.7" y2="240.9" stroke="#808080" stroke-width="1.1700000000000002"/>
<rect x="832.6" y="240.9" width="9.1" height="10.4" rx="0" fill="none" stroke="#808080" stroke-width="1.3"/>
<line x1="834.6" y1="240.9" x2="834.6" y2="251.3" stroke="#808080" stroke-width="1.1700000000000002"/>
<line x1="839.7" y1="240.9" x2="839.7" y2="251.3" stroke="#808080" stroke-width="1.1700000000000002"/>
<rect x="841.7" y="230.6" width="9.1" height="10.3" rx="0" fill="none" stroke="#808080" stroke-width="1.3"/>
<line x1="843.7" y1="230.6" x2="843.7" y2="240.9" stroke="#808080" stroke-width="1.1700000000000002"/>
<line x1="848.8" y1="230.6" x2="848.8" y2="240.9" stroke="#808080" stroke-width="1.1700000000000002"/>
<rect x="841.7" y="240.9" width="9.1" height="10.4" rx="0" fill="none" stroke="#808080" stroke-width="1.3"/>
<line x1="843.7" y1="240.9" x2="843.7" y2="251.3" stroke="#808080" stroke-width="1.1700000000000002"/>
<line x1="848.8" y1="240.9" x2="848.8" y2="251.3" stroke="#808080" stroke-width="1.1700000000000002"/>
<rect x="835.2" y="250.5" width="12.7" height="6.2" rx="0" fill="none" stroke="#808080" stroke-width="1.3"/>
<line x1="838.0" y1="250.5" x2="838.0" y2="256.7" stroke="#808080" stroke-width="1.1700000000000002"/>
<line x1="845.1" y1="250.5" x2="845.1" y2="256.7" stroke="#808080" stroke-width="1.1700000000000002"/>
<rect x="786.3" y="229.1" width="13.3" height="6.4" rx="0" fill="none" stroke="#808080" stroke-width="1.3"/>
<line x1="789.2" y1="229.1" x2="789.2" y2="235.5" stroke="#808080" stroke-width="1.1700000000000002"/>
<line x1="796.7" y1="229.1" x2="796.7" y2="235.5" stroke="#808080" stroke-width="1.1700000000000002"/>
<rect x="851.9" y="229.7" width="54.8" height="93.2" rx="0" fill="none" stroke="#808080" stroke-width="1.3"/>
<circle cx="879.3" cy="274.5" r="26.7" fill="none" stroke="#8a8a8a" stroke-width="1.3"/>
<circle cx="863.4" cy="304.7" r="3.6" fill="none" stroke="#8a8a8a" stroke-width="1.2"/>
<circle cx="879" cy="308.7" r="3.6" fill="none" stroke="#8a8a8a" stroke-width="1.2"/>
<circle cx="894.7" cy="304.7" r="3.6" fill="none" stroke="#8a8a8a" stroke-width="1.2"/>
<path d="M856.3 244.5 H867.7 L855.6 256.2 Z M891.4 244.5 H902.7 L903.2 256.2 Z" fill="none" stroke="#8a8a8a" stroke-width="1.2"/>
<rect x="913.1" y="247.0" width="11.4" height="8.1" rx="0" fill="none" stroke="#808080" stroke-width="1.3"/>
<line x1="915.6" y1="247.0" x2="915.6" y2="255.1" stroke="#808080" stroke-width="1.1700000000000002"/>
<line x1="922.0" y1="247.0" x2="922.0" y2="255.1" stroke="#808080" stroke-width="1.1700000000000002"/>
<rect x="913.1" y="255.1" width="11.4" height="8.1" rx="0" fill="none" stroke="#808080" stroke-width="1.3"/>
<line x1="915.6" y1="255.1" x2="915.6" y2="263.2" stroke="#808080" stroke-width="1.1700000000000002"/>
<line x1="922.0" y1="255.1" x2="922.0" y2="263.2" stroke="#808080" stroke-width="1.1700000000000002"/>
<rect x="924.5" y="247.0" width="11.5" height="8.1" rx="0" fill="none" stroke="#808080" stroke-width="1.3"/>
<line x1="927.0" y1="247.0" x2="927.0" y2="255.1" stroke="#808080" stroke-width="1.1700000000000002"/>
<line x1="933.5" y1="247.0" x2="933.5" y2="255.1" stroke="#808080" stroke-width="1.1700000000000002"/>
<rect x="924.5" y="255.1" width="11.5" height="8.1" rx="0" fill="none" stroke="#808080" stroke-width="1.3"/>
<line x1="927.0" y1="255.1" x2="927.0" y2="263.2" stroke="#808080" stroke-width="1.1700000000000002"/>
<line x1="933.5" y1="255.1" x2="933.5" y2="263.2" stroke="#808080" stroke-width="1.1700000000000002"/>
<rect x="891.5" y="376.6" width="12.4" height="6.0" rx="0" fill="none" stroke="#808080" stroke-width="1.3"/>
<line x1="894.2" y1="376.6" x2="894.2" y2="382.6" stroke="#808080" stroke-width="1.1700000000000002"/>
<line x1="901.2" y1="376.6" x2="901.2" y2="382.6" stroke="#808080" stroke-width="1.1700000000000002"/>
<rect x="891.5" y="382.6" width="12.4" height="6.1" rx="0" fill="none" stroke="#808080" stroke-width="1.3"/>
<line x1="894.2" y1="382.6" x2="894.2" y2="388.7" stroke="#808080" stroke-width="1.1700000000000002"/>
<line x1="901.2" y1="382.6" x2="901.2" y2="388.7" stroke="#808080" stroke-width="1.1700000000000002"/>
<rect x="844.7" y="343.8" width="11.7" height="5.6" rx="0" fill="none" stroke="#808080" stroke-width="1.3"/>
<line x1="847.3" y1="343.8" x2="847.3" y2="349.4" stroke="#808080" stroke-width="1.1700000000000002"/>
<line x1="853.8" y1="343.8" x2="853.8" y2="349.4" stroke="#808080" stroke-width="1.1700000000000002"/>
<rect x="853.4" y="352.2" width="4.2" height="11.4" rx="0" fill="none" stroke="#808080" stroke-width="1.3"/>
<line x1="853.4" y1="354.7" x2="857.6" y2="354.7" stroke="#808080" stroke-width="1.1700000000000002"/>
<line x1="853.4" y1="361.1" x2="857.6" y2="361.1" stroke="#808080" stroke-width="1.1700000000000002"/>
<rect x="847.5" y="360.2" width="4.2" height="13.4" rx="0" fill="none" stroke="#808080" stroke-width="1.3"/>
<line x1="847.5" y1="363.1" x2="851.7" y2="363.1" stroke="#808080" stroke-width="1.1700000000000002"/>
<line x1="847.5" y1="370.7" x2="851.7" y2="370.7" stroke="#808080" stroke-width="1.1700000000000002"/>
<rect x="845.4" y="375.3" width="12.2" height="6.6" rx="0" fill="none" stroke="#808080" stroke-width="1.3"/>
<line x1="848.1" y1="375.3" x2="848.1" y2="381.9" stroke="#808080" stroke-width="1.1700000000000002"/>
<line x1="854.9" y1="375.3" x2="854.9" y2="381.9" stroke="#808080" stroke-width="1.1700000000000002"/>
<rect x="845.4" y="381.9" width="12.2" height="6.6" rx="0" fill="none" stroke="#808080" stroke-width="1.3"/>
<line x1="848.1" y1="381.9" x2="848.1" y2="388.4" stroke="#808080" stroke-width="1.1700000000000002"/>
<line x1="854.9" y1="381.9" x2="854.9" y2="388.4" stroke="#808080" stroke-width="1.1700000000000002"/>
<rect x="845.4" y="388.4" width="12.2" height="6.6" rx="0" fill="none" stroke="#808080" stroke-width="1.3"/>
<line x1="848.1" y1="388.4" x2="848.1" y2="395.0" stroke="#808080" stroke-width="1.1700000000000002"/>
<line x1="854.9" y1="388.4" x2="854.9" y2="395.0" stroke="#808080" stroke-width="1.1700000000000002"/>
<rect x="627.1" y="114.0" width="315.9" height="458.6" rx="17" fill="none" stroke="#7b7c7e" stroke-width="5"/>
<line x1="877" y1="274.5" x2="966.9" y2="274.5" stroke="#231f20" stroke-width="1.8"/>
<line x1="776.1" y1="332.5" x2="966.9" y2="332.5" stroke="#231f20" stroke-width="1.8"/>
<line x1="801.3" y1="389.7" x2="966.9" y2="389.7" stroke="#231f20" stroke-width="1.8"/>
<line x1="776" y1="518.7" x2="966.9" y2="518.7" stroke="#231f20" stroke-width="1.8"/>
<path d="M297.1 86.6 L297.1 123" fill="none" stroke="#231f20" stroke-width="1.8"/>
<path d="M398.4 85.1 L398.4 128.7" fill="none" stroke="#231f20" stroke-width="1.8"/>
<path d="M362.4 128.7 L362.4 100.5 L437.5 100.5 L437.5 128.7" fill="none" stroke="#231f20" stroke-width="1.8"/>
<path d="M501.5 86.8 L501.5 123" fill="none" stroke="#231f20" stroke-width="1.8"/>
<path d="M192.6 234.2 L261.4 234.2" fill="none" stroke="#231f20" stroke-width="1.8"/>
<path d="M192.6 277.4 L261.7 277.4" fill="none" stroke="#231f20" stroke-width="1.8"/>
<path d="M192.6 336.1 L317.4 336.1" fill="none" stroke="#231f20" stroke-width="1.8"/>
<path d="M192.6 401.1 L262 401.1" fill="none" stroke="#231f20" stroke-width="1.8"/>
<path d="M192.2 525.8 L259 525.8" fill="none" stroke="#231f20" stroke-width="1.8"/>
<path d="M284.5 566.9 L284.5 613.5" fill="none" stroke="#231f20" stroke-width="1.8"/>
<path d="M302 566.9 L302 596.2 L284.5 596.2" fill="none" stroke="#231f20" stroke-width="1.8"/>
<path d="M332.7 567.8 L332.7 595 L467.6 595 L467.6 567.8" fill="none" stroke="#231f20" stroke-width="1.8"/>
<path d="M399.9 567.8 L399.9 613.7" fill="none" stroke="#231f20" stroke-width="1.8"/>
<path d="M540.8 527.6 L540.8 613.7" fill="none" stroke="#231f20" stroke-width="1.8"/>
<text x="247.9" y="67.2" font-size="24.3" fill="#231f20" stroke="#fff" stroke-width="0.12" textLength="73.3" lengthAdjust="spacingAndGlyphs">麦克风</text>
<text x="349.4" y="67.2" font-size="24.3" fill="#231f20" stroke="#fff" stroke-width="0.12" textLength="98.6" lengthAdjust="spacingAndGlyphs">RGB灯*3</text>
<text x="469.5" y="67.2" font-size="24.3" fill="#231f20" stroke="#fff" stroke-width="0.12" textLength="122.7" lengthAdjust="spacingAndGlyphs">光线传感器</text>
<text x="58.4" y="244.2" font-size="24.3" fill="#231f20" stroke="#fff" stroke-width="0.12" textLength="122.9" lengthAdjust="spacingAndGlyphs">电机驱动*4</text>
<text x="58.4" y="287" font-size="24.3" fill="#231f20" stroke="#fff" stroke-width="0.12" textLength="122.8" lengthAdjust="spacingAndGlyphs">I/O端口*12</text>
<text x="65.8" y="345.7" font-size="24.3" fill="#231f20" stroke="#fff" stroke-width="0.12" textLength="117.3" lengthAdjust="spacingAndGlyphs">LCD显示屏</text>
<text x="72.5" y="410.1" font-size="24.3" fill="#231f20" stroke="#fff" stroke-width="0.12" textLength="109.9" lengthAdjust="spacingAndGlyphs">I2C接口*2</text>
<text x="89.5" y="534.7" font-size="24.3" fill="#231f20" stroke="#fff" stroke-width="0.12" textLength="97.0" lengthAdjust="spacingAndGlyphs">电源按键</text>
<text x="144.2" y="651.6" font-size="24.3" fill="#231f20" stroke="#fff" stroke-width="0.12" textLength="180.6" lengthAdjust="spacingAndGlyphs">充电/电源指示灯</text>
<text x="363.8" y="651.6" font-size="24.3" fill="#231f20" stroke="#fff" stroke-width="0.12" textLength="74.1" lengthAdjust="spacingAndGlyphs">按键*3</text>
<text x="496.3" y="651.6" font-size="24.3" fill="#231f20" stroke="#fff" stroke-width="0.12" textLength="124.0" lengthAdjust="spacingAndGlyphs">RESET按键</text>
<text x="974.7" y="284.6" font-size="24.3" fill="#231f20" stroke="#fff" stroke-width="0.12" textLength="48.7" lengthAdjust="spacingAndGlyphs">喇叭</text>
<text x="973.6" y="341.5" font-size="24.3" fill="#231f20" stroke="#fff" stroke-width="0.12" textLength="104.4" lengthAdjust="spacingAndGlyphs">k210主控</text>
<text x="975.7" y="398.2" font-size="24.3" fill="#231f20" stroke="#fff" stroke-width="0.12" textLength="71.3" lengthAdjust="spacingAndGlyphs">锂电池</text>
<text x="973.6" y="527" font-size="24.3" fill="#231f20" stroke="#fff" stroke-width="0.12" textLength="127.7" lengthAdjust="spacingAndGlyphs">micro SD卡</text>
<text x="1020.3" y="674" font-size="30" fill="#231f20" stroke="#fff" stroke-width="0.12" textLength="63.6" lengthAdjust="spacingAndGlyphs">上层</text>
<circle cx="1005.9" cy="662.5" r="8.8" fill="#231f20"/>
</svg>
</body></html>
